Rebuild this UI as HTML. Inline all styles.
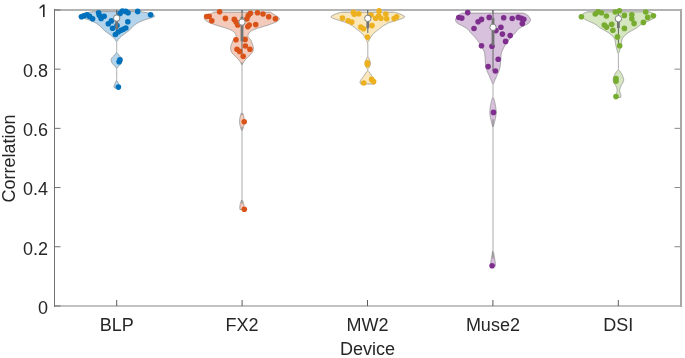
<!DOCTYPE html><html><head><meta charset="utf-8"><style>html,body{margin:0;padding:0;background:#fff;}svg{display:block;will-change:transform;}text{font-family:"Liberation Sans",sans-serif;fill:#262626;}</style></head><body>
<svg width="685" height="358" viewBox="0 0 685 358">
<rect x="0" y="0" width="685" height="358" fill="#fff"/>
<rect x="54" y="9" width="627" height="2" fill="#b3b3b3"/>
<rect x="54" y="305" width="627" height="2" fill="#c2c2c2"/>
<rect x="680" y="9" width="2" height="298" fill="#a8a8a8"/>
<rect x="54" y="9" width="1" height="298" fill="#737373"/>
<line x1="55" y1="305.95" x2="60.5" y2="305.95" stroke="#707070" stroke-width="1"/>
<text x="48.0" y="314.25" font-size="18" text-anchor="end">0</text>
<line x1="55" y1="246.75" x2="60.5" y2="246.75" stroke="#707070" stroke-width="1"/>
<line x1="674.5" y1="246.75" x2="680" y2="246.75" stroke="#8a8a8a" stroke-width="1"/>
<text x="48.0" y="255.05" font-size="18" text-anchor="end">0.2</text>
<line x1="55" y1="187.55" x2="60.5" y2="187.55" stroke="#707070" stroke-width="1"/>
<line x1="674.5" y1="187.55" x2="680" y2="187.55" stroke="#8a8a8a" stroke-width="1"/>
<text x="48.0" y="195.45" font-size="18" text-anchor="end">0.4</text>
<line x1="55" y1="128.35" x2="60.5" y2="128.35" stroke="#707070" stroke-width="1"/>
<line x1="674.5" y1="128.35" x2="680" y2="128.35" stroke="#8a8a8a" stroke-width="1"/>
<text x="48.0" y="135.85" font-size="18" text-anchor="end">0.6</text>
<line x1="55" y1="69.15" x2="60.5" y2="69.15" stroke="#707070" stroke-width="1"/>
<line x1="674.5" y1="69.15" x2="680" y2="69.15" stroke="#8a8a8a" stroke-width="1"/>
<text x="48.0" y="76.65" font-size="18" text-anchor="end">0.8</text>
<line x1="55" y1="9.95" x2="60.5" y2="9.95" stroke="#707070" stroke-width="1"/>
<path d="M43.03,16.95 L43.03,6.45 L39.60,9.05 L39.60,7.25 L43.00,4.57 L44.62,4.57 L44.62,16.95 Z" fill="#262626"/>
<line x1="116.70" y1="306" x2="116.70" y2="300" stroke="#5a5a5a" stroke-width="1"/>
<line x1="116.70" y1="10" x2="116.70" y2="16" stroke="#707070" stroke-width="1"/>
<text x="116.70" y="330.6" font-size="18" text-anchor="middle">BLP</text>
<line x1="242.10" y1="306" x2="242.10" y2="300" stroke="#5a5a5a" stroke-width="1"/>
<line x1="242.10" y1="10" x2="242.10" y2="16" stroke="#707070" stroke-width="1"/>
<text x="242.10" y="330.6" font-size="18" text-anchor="middle">FX2</text>
<line x1="367.50" y1="306" x2="367.50" y2="300" stroke="#5a5a5a" stroke-width="1"/>
<line x1="367.50" y1="10" x2="367.50" y2="16" stroke="#707070" stroke-width="1"/>
<text x="367.50" y="330.6" font-size="18" text-anchor="middle">MW2</text>
<line x1="492.90" y1="306" x2="492.90" y2="300" stroke="#5a5a5a" stroke-width="1"/>
<line x1="492.90" y1="10" x2="492.90" y2="16" stroke="#707070" stroke-width="1"/>
<text x="492.90" y="330.6" font-size="18" text-anchor="middle">Muse2</text>
<line x1="618.30" y1="306" x2="618.30" y2="300" stroke="#5a5a5a" stroke-width="1"/>
<line x1="618.30" y1="10" x2="618.30" y2="16" stroke="#707070" stroke-width="1"/>
<text x="618.30" y="330.6" font-size="18" text-anchor="middle">DSI</text>
<text x="367.5" y="355.2" font-size="18" text-anchor="middle">Device</text>
<text transform="translate(15.4,158.5) rotate(-90)" x="0" y="0" font-size="18" text-anchor="middle">Correlation</text>
<defs><clipPath id="ax"><rect x="54" y="10" width="627" height="296"/></clipPath></defs>
<g clip-path="url(#ax)">
<path d="M93.70,11.60 L93.04,11.70 L92.14,11.83 L91.05,11.98 L89.87,12.15 L88.65,12.33 L87.47,12.52 L86.39,12.71 L85.50,12.90 L84.76,13.08 L84.11,13.27 L83.52,13.47 L82.99,13.67 L82.51,13.87 L82.06,14.08 L81.62,14.29 L81.20,14.50 L80.75,14.72 L80.29,14.94 L79.83,15.16 L79.41,15.39 L79.05,15.62 L78.80,15.85 L78.67,16.07 L78.70,16.30 L78.92,16.53 L79.32,16.76 L79.85,17.00 L80.47,17.23 L81.15,17.46 L81.85,17.69 L82.51,17.90 L83.10,18.10 L83.64,18.28 L84.17,18.45 L84.70,18.60 L85.23,18.75 L85.76,18.90 L86.30,19.05 L86.84,19.22 L87.40,19.40 L87.97,19.60 L88.56,19.81 L89.16,20.03 L89.76,20.25 L90.36,20.48 L90.95,20.72 L91.53,20.96 L92.10,21.20 L92.65,21.45 L93.20,21.69 L93.75,21.95 L94.28,22.21 L94.81,22.47 L95.32,22.74 L95.82,23.02 L96.30,23.30 L96.77,23.59 L97.23,23.90 L97.68,24.21 L98.11,24.53 L98.53,24.84 L98.94,25.17 L99.33,25.48 L99.70,25.80 L100.04,26.11 L100.36,26.42 L100.65,26.73 L100.93,27.04 L101.21,27.35 L101.49,27.66 L101.78,27.98 L102.10,28.30 L102.43,28.62 L102.75,28.95 L103.08,29.28 L103.43,29.61 L103.78,29.94 L104.16,30.29 L104.56,30.64 L105.00,31.00 L105.49,31.38 L106.02,31.78 L106.59,32.19 L107.17,32.60 L107.76,33.01 L108.34,33.42 L108.89,33.82 L109.40,34.20 L109.87,34.56 L110.32,34.91 L110.76,35.25 L111.17,35.59 L111.58,35.92 L111.96,36.24 L112.34,36.57 L112.70,36.90 L113.05,37.23 L113.39,37.56 L113.71,37.89 L114.03,38.21 L114.32,38.54 L114.60,38.86 L114.86,39.18 L115.10,39.50 L115.32,39.82 L115.53,40.16 L115.71,40.49 L115.88,40.82 L116.04,41.14 L116.17,41.45 L116.29,41.74 L116.40,42.00 L116.49,42.19 L116.55,42.30 L116.59,42.37 L116.62,42.44 L116.64,42.54 L116.65,42.73 L116.67,43.03 L116.68,43.50 L116.70,44.19 L116.70,45.11 L116.70,46.16 L116.70,47.28 L116.70,48.40 L116.70,49.44 L116.70,50.33 L116.68,51.00 L116.66,51.43 L116.64,51.70 L116.61,51.83 L116.58,51.88 L116.55,51.87 L116.51,51.87 L116.46,51.90 L116.40,52.00 L116.34,52.16 L116.26,52.34 L116.19,52.53 L116.10,52.72 L116.01,52.92 L115.91,53.11 L115.81,53.31 L115.70,53.50 L115.59,53.68 L115.49,53.84 L115.39,53.99 L115.28,54.15 L115.15,54.32 L115.00,54.51 L114.82,54.74 L114.60,55.00 L114.32,55.32 L113.97,55.68 L113.58,56.08 L113.17,56.49 L112.76,56.92 L112.39,57.34 L112.06,57.74 L111.80,58.10 L111.61,58.43 L111.46,58.74 L111.34,59.04 L111.26,59.33 L111.21,59.61 L111.19,59.90 L111.18,60.19 L111.20,60.50 L111.24,60.82 L111.30,61.15 L111.40,61.49 L111.51,61.82 L111.65,62.17 L111.81,62.51 L112.00,62.86 L112.20,63.20 L112.44,63.55 L112.73,63.92 L113.05,64.30 L113.39,64.68 L113.73,65.04 L114.05,65.39 L114.35,65.71 L114.60,66.00 L114.81,66.25 L115.00,66.48 L115.16,66.68 L115.31,66.86 L115.45,67.03 L115.57,67.19 L115.69,67.35 L115.80,67.50 L115.91,67.65 L116.00,67.79 L116.08,67.91 L116.16,68.03 L116.22,68.15 L116.29,68.26 L116.34,68.38 L116.40,68.50 L116.45,68.56 L116.50,68.54 L116.54,68.48 L116.58,68.44 L116.61,68.47 L116.64,68.62 L116.66,68.94 L116.68,69.50 L116.70,70.38 L116.70,71.58 L116.70,72.99 L116.70,74.50 L116.70,76.01 L116.70,77.42 L116.70,78.62 L116.68,79.50 L116.66,80.05 L116.63,80.35 L116.60,80.47 L116.56,80.47 L116.51,80.41 L116.45,80.36 L116.38,80.36 L116.30,80.50 L116.20,80.74 L116.08,81.01 L115.94,81.31 L115.80,81.62 L115.64,81.96 L115.49,82.30 L115.34,82.65 L115.20,83.00 L115.05,83.36 L114.89,83.74 L114.73,84.13 L114.57,84.53 L114.42,84.93 L114.28,85.31 L114.18,85.67 L114.10,86.00 L114.06,86.31 L114.06,86.62 L114.09,86.91 L114.13,87.19 L114.18,87.44 L114.23,87.66 L114.28,87.85 L114.30,88.00 L119.10,88.00 L119.12,87.85 L119.17,87.66 L119.22,87.44 L119.27,87.19 L119.31,86.91 L119.34,86.62 L119.34,86.31 L119.30,86.00 L119.22,85.67 L119.12,85.31 L118.98,84.93 L118.83,84.53 L118.67,84.13 L118.51,83.74 L118.35,83.36 L118.20,83.00 L118.06,82.65 L117.91,82.30 L117.76,81.96 L117.61,81.62 L117.46,81.31 L117.32,81.01 L117.20,80.74 L117.10,80.50 L117.02,80.36 L116.95,80.36 L116.89,80.41 L116.84,80.47 L116.80,80.47 L116.77,80.35 L116.74,80.05 L116.72,79.50 L116.70,78.62 L116.70,77.42 L116.70,76.01 L116.70,74.50 L116.70,72.99 L116.70,71.58 L116.70,70.38 L116.72,69.50 L116.74,68.94 L116.76,68.62 L116.79,68.47 L116.82,68.44 L116.86,68.48 L116.90,68.54 L116.95,68.56 L117.00,68.50 L117.06,68.38 L117.11,68.26 L117.18,68.15 L117.24,68.03 L117.32,67.91 L117.40,67.79 L117.49,67.65 L117.60,67.50 L117.71,67.35 L117.83,67.19 L117.95,67.03 L118.09,66.86 L118.24,66.68 L118.40,66.48 L118.59,66.25 L118.80,66.00 L119.05,65.71 L119.35,65.39 L119.67,65.04 L120.01,64.68 L120.35,64.30 L120.67,63.92 L120.96,63.55 L121.20,63.20 L121.40,62.86 L121.59,62.51 L121.75,62.17 L121.89,61.82 L122.00,61.49 L122.10,61.15 L122.16,60.82 L122.20,60.50 L122.22,60.19 L122.21,59.90 L122.19,59.61 L122.14,59.33 L122.06,59.04 L121.94,58.74 L121.79,58.43 L121.60,58.10 L121.34,57.74 L121.01,57.34 L120.64,56.92 L120.23,56.49 L119.82,56.08 L119.43,55.68 L119.08,55.32 L118.80,55.00 L118.58,54.74 L118.40,54.51 L118.25,54.32 L118.12,54.15 L118.01,53.99 L117.91,53.84 L117.81,53.68 L117.70,53.50 L117.59,53.31 L117.49,53.11 L117.39,52.92 L117.30,52.72 L117.21,52.53 L117.14,52.34 L117.06,52.16 L117.00,52.00 L116.94,51.90 L116.89,51.87 L116.85,51.87 L116.82,51.88 L116.79,51.83 L116.76,51.70 L116.74,51.43 L116.72,51.00 L116.70,50.33 L116.70,49.44 L116.70,48.40 L116.70,47.28 L116.70,46.16 L116.70,45.11 L116.70,44.19 L116.72,43.50 L116.73,43.03 L116.75,42.73 L116.76,42.54 L116.78,42.44 L116.81,42.37 L116.85,42.30 L116.91,42.19 L117.00,42.00 L117.11,41.74 L117.23,41.45 L117.36,41.14 L117.52,40.82 L117.69,40.49 L117.87,40.16 L118.08,39.82 L118.30,39.50 L118.54,39.18 L118.80,38.86 L119.08,38.54 L119.38,38.21 L119.69,37.89 L120.01,37.56 L120.35,37.23 L120.70,36.90 L121.06,36.57 L121.44,36.24 L121.82,35.92 L122.23,35.59 L122.64,35.25 L123.08,34.91 L123.53,34.56 L124.00,34.20 L124.51,33.82 L125.06,33.42 L125.64,33.01 L126.23,32.60 L126.81,32.19 L127.38,31.78 L127.91,31.38 L128.40,31.00 L128.84,30.64 L129.24,30.29 L129.62,29.94 L129.97,29.61 L130.32,29.28 L130.65,28.95 L130.97,28.62 L131.30,28.30 L131.62,27.98 L131.91,27.66 L132.19,27.35 L132.47,27.04 L132.75,26.73 L133.04,26.42 L133.36,26.11 L133.70,25.80 L134.07,25.48 L134.46,25.17 L134.87,24.84 L135.29,24.53 L135.72,24.21 L136.17,23.90 L136.63,23.59 L137.10,23.30 L137.58,23.02 L138.08,22.74 L138.59,22.47 L139.12,22.21 L139.65,21.95 L140.20,21.69 L140.75,21.45 L141.30,21.20 L141.87,20.96 L142.45,20.72 L143.04,20.48 L143.64,20.25 L144.24,20.03 L144.84,19.81 L145.43,19.60 L146.00,19.40 L146.56,19.22 L147.10,19.05 L147.64,18.90 L148.17,18.75 L148.70,18.60 L149.23,18.45 L149.76,18.28 L150.30,18.10 L150.89,17.90 L151.55,17.69 L152.25,17.46 L152.93,17.23 L153.55,17.00 L154.08,16.76 L154.48,16.53 L154.70,16.30 L154.73,16.07 L154.60,15.85 L154.35,15.62 L153.99,15.39 L153.57,15.16 L153.11,14.94 L152.65,14.72 L152.20,14.50 L151.78,14.29 L151.34,14.08 L150.89,13.87 L150.41,13.67 L149.88,13.47 L149.29,13.27 L148.64,13.08 L147.90,12.90 L147.01,12.71 L145.93,12.52 L144.75,12.33 L143.53,12.15 L142.35,11.98 L141.26,11.83 L140.36,11.70 L139.70,11.60 Z" fill="#B3D4EB" stroke="none"/>
<path d="M139.70,11.60 L93.70,11.60 L93.70,11.60 L93.04,11.70 L92.14,11.83 L91.05,11.98 L89.87,12.15 L88.65,12.33 L87.47,12.52 L86.39,12.71 L85.50,12.90 L84.76,13.08 L84.11,13.27 L83.52,13.47 L82.99,13.67 L82.51,13.87 L82.06,14.08 L81.62,14.29 L81.20,14.50 L80.75,14.72 L80.29,14.94 L79.83,15.16 L79.41,15.39 L79.05,15.62 L78.80,15.85 L78.67,16.07 L78.70,16.30 L78.92,16.53 L79.32,16.76 L79.85,17.00 L80.47,17.23 L81.15,17.46 L81.85,17.69 L82.51,17.90 L83.10,18.10 L83.64,18.28 L84.17,18.45 L84.70,18.60 L85.23,18.75 L85.76,18.90 L86.30,19.05 L86.84,19.22 L87.40,19.40 L87.97,19.60 L88.56,19.81 L89.16,20.03 L89.76,20.25 L90.36,20.48 L90.95,20.72 L91.53,20.96 L92.10,21.20 L92.65,21.45 L93.20,21.69 L93.75,21.95 L94.28,22.21 L94.81,22.47 L95.32,22.74 L95.82,23.02 L96.30,23.30 L96.77,23.59 L97.23,23.90 L97.68,24.21 L98.11,24.53 L98.53,24.84 L98.94,25.17 L99.33,25.48 L99.70,25.80 L100.04,26.11 L100.36,26.42 L100.65,26.73 L100.93,27.04 L101.21,27.35 L101.49,27.66 L101.78,27.98 L102.10,28.30 L102.43,28.62 L102.75,28.95 L103.08,29.28 L103.43,29.61 L103.78,29.94 L104.16,30.29 L104.56,30.64 L105.00,31.00 L105.49,31.38 L106.02,31.78 L106.59,32.19 L107.17,32.60 L107.76,33.01 L108.34,33.42 L108.89,33.82 L109.40,34.20 L109.87,34.56 L110.32,34.91 L110.76,35.25 L111.17,35.59 L111.58,35.92 L111.96,36.24 L112.34,36.57 L112.70,36.90 L113.05,37.23 L113.39,37.56 L113.71,37.89 L114.03,38.21 L114.32,38.54 L114.60,38.86 L114.86,39.18 L115.10,39.50 L115.32,39.82 L115.53,40.16 L115.71,40.49 L115.88,40.82 L116.07,41.14 L116.30,41.45 L116.46,41.74 L116.57,42.00 L116.63,42.19 L116.67,42.30 L116.68,42.37 L116.69,42.44 L116.69,42.54 L116.70,42.73 L116.70,43.03 L116.70,43.50 L116.70,44.19 L116.70,45.11 L116.70,46.16 L116.70,47.28 L116.70,48.40 L116.70,49.44 L116.70,50.33 L116.70,51.00 L116.70,51.43 L116.69,51.70 L116.69,51.83 L116.68,51.88 L116.67,51.87 L116.65,51.87 L116.62,51.90 L116.57,52.00 L116.51,52.16 L116.43,52.34 L116.32,52.53 L116.19,52.72 L116.02,52.92 L115.91,53.11 L115.81,53.31 L115.70,53.50 L115.59,53.68 L115.49,53.84 L115.39,53.99 L115.28,54.15 L115.15,54.32 L115.00,54.51 L114.82,54.74 L114.60,55.00 L114.32,55.32 L113.97,55.68 L113.58,56.08 L113.17,56.49 L112.76,56.92 L112.39,57.34 L112.06,57.74 L111.80,58.10 L111.61,58.43 L111.46,58.74 L111.34,59.04 L111.26,59.33 L111.21,59.61 L111.19,59.90 L111.18,60.19 L111.20,60.50 L111.24,60.82 L111.30,61.15 L111.40,61.49 L111.51,61.82 L111.65,62.17 L111.81,62.51 L112.00,62.86 L112.20,63.20 L112.44,63.55 L112.73,63.92 L113.05,64.30 L113.39,64.68 L113.73,65.04 L114.05,65.39 L114.35,65.71 L114.60,66.00 L114.81,66.25 L115.00,66.48 L115.16,66.68 L115.31,66.86 L115.45,67.03 L115.57,67.19 L115.69,67.35 L115.80,67.50 L115.91,67.65 L116.00,67.79 L116.16,67.91 L116.28,68.03 L116.38,68.15 L116.46,68.26 L116.52,68.38 L116.57,68.50 L116.61,68.56 L116.64,68.54 L116.66,68.48 L116.68,68.44 L116.69,68.47 L116.69,68.62 L116.70,68.94 L116.70,69.50 L116.70,70.38 L116.70,71.58 L116.70,72.99 L116.70,74.50 L116.70,76.01 L116.70,77.42 L116.70,78.62 L116.70,79.50 L116.70,80.05 L116.69,80.35 L116.68,80.47 L116.67,80.47 L116.65,80.41 L116.61,80.36 L116.56,80.36 L116.47,80.50 L116.34,80.74 L116.14,81.01 L115.94,81.31 L115.80,81.62 L115.64,81.96 L115.49,82.30 L115.34,82.65 L115.20,83.00 L115.05,83.36 L114.89,83.74 L114.73,84.13 L114.57,84.53 L114.42,84.93 L114.28,85.31 L114.18,85.67 L114.10,86.00 L114.06,86.31 L114.06,86.62 L114.09,86.91 L114.13,87.19 L114.18,87.44 L114.23,87.66 L114.28,87.85 L114.30,88.00 L119.10,88.00 M119.10,88.00 L119.12,87.85 L119.17,87.66 L119.22,87.44 L119.27,87.19 L119.31,86.91 L119.34,86.62 L119.34,86.31 L119.30,86.00 L119.22,85.67 L119.12,85.31 L118.98,84.93 L118.83,84.53 L118.67,84.13 L118.51,83.74 L118.35,83.36 L118.20,83.00 L118.06,82.65 L117.91,82.30 L117.76,81.96 L117.61,81.62 L117.46,81.31 L117.26,81.01 M117.24,67.91 L117.40,67.79 L117.49,67.65 L117.60,67.50 L117.71,67.35 L117.83,67.19 L117.95,67.03 L118.09,66.86 L118.24,66.68 L118.40,66.48 L118.59,66.25 L118.80,66.00 L119.05,65.71 L119.35,65.39 L119.67,65.04 L120.01,64.68 L120.35,64.30 L120.67,63.92 L120.96,63.55 L121.20,63.20 L121.40,62.86 L121.59,62.51 L121.75,62.17 L121.89,61.82 L122.00,61.49 L122.10,61.15 L122.16,60.82 L122.20,60.50 L122.22,60.19 L122.21,59.90 L122.19,59.61 L122.14,59.33 L122.06,59.04 L121.94,58.74 L121.79,58.43 L121.60,58.10 L121.34,57.74 L121.01,57.34 L120.64,56.92 L120.23,56.49 L119.82,56.08 L119.43,55.68 L119.08,55.32 L118.80,55.00 L118.58,54.74 L118.40,54.51 L118.25,54.32 L118.12,54.15 L118.01,53.99 L117.91,53.84 L117.81,53.68 L117.70,53.50 L117.59,53.31 L117.49,53.11 L117.38,52.92 M117.33,41.14 L117.52,40.82 L117.69,40.49 L117.87,40.16 L118.08,39.82 L118.30,39.50 L118.54,39.18 L118.80,38.86 L119.08,38.54 L119.38,38.21 L119.69,37.89 L120.01,37.56 L120.35,37.23 L120.70,36.90 L121.06,36.57 L121.44,36.24 L121.82,35.92 L122.23,35.59 L122.64,35.25 L123.08,34.91 L123.53,34.56 L124.00,34.20 L124.51,33.82 L125.06,33.42 L125.64,33.01 L126.23,32.60 L126.81,32.19 L127.38,31.78 L127.91,31.38 L128.40,31.00 L128.84,30.64 L129.24,30.29 L129.62,29.94 L129.97,29.61 L130.32,29.28 L130.65,28.95 L130.97,28.62 L131.30,28.30 L131.62,27.98 L131.91,27.66 L132.19,27.35 L132.47,27.04 L132.75,26.73 L133.04,26.42 L133.36,26.11 L133.70,25.80 L134.07,25.48 L134.46,25.17 L134.87,24.84 L135.29,24.53 L135.72,24.21 L136.17,23.90 L136.63,23.59 L137.10,23.30 L137.58,23.02 L138.08,22.74 L138.59,22.47 L139.12,22.21 L139.65,21.95 L140.20,21.69 L140.75,21.45 L141.30,21.20 L141.87,20.96 L142.45,20.72 L143.04,20.48 L143.64,20.25 L144.24,20.03 L144.84,19.81 L145.43,19.60 L146.00,19.40 L146.56,19.22 L147.10,19.05 L147.64,18.90 L148.17,18.75 L148.70,18.60 L149.23,18.45 L149.76,18.28 L150.30,18.10 L150.89,17.90 L151.55,17.69 L152.25,17.46 L152.93,17.23 L153.55,17.00 L154.08,16.76 L154.48,16.53 L154.70,16.30 L154.73,16.07 L154.60,15.85 L154.35,15.62 L153.99,15.39 L153.57,15.16 L153.11,14.94 L152.65,14.72 L152.20,14.50 L151.78,14.29 L151.34,14.08 L150.89,13.87 L150.41,13.67 L149.88,13.47 L149.29,13.27 L148.64,13.08 L147.90,12.90 L147.01,12.71 L145.93,12.52 L144.75,12.33 L143.53,12.15 L142.35,11.98 L141.26,11.83 L140.36,11.70 L139.70,11.60" fill="none" stroke="#888888" stroke-width="0.72" stroke-linejoin="round"/>
</g>
<line x1="116.70" y1="10.00" x2="116.70" y2="34.50" stroke="#666666" stroke-width="1.0"/>
<circle cx="81.5" cy="16.7" r="2.8" fill="#0072BD"/>
<circle cx="84.0" cy="15.8" r="2.8" fill="#0072BD"/>
<circle cx="87.0" cy="14.7" r="2.8" fill="#0072BD"/>
<circle cx="89.6" cy="16.4" r="2.8" fill="#0072BD"/>
<circle cx="92.6" cy="18.8" r="2.8" fill="#0072BD"/>
<circle cx="98.6" cy="12.8" r="2.8" fill="#0072BD"/>
<circle cx="99.3" cy="15.3" r="2.8" fill="#0072BD"/>
<circle cx="101.1" cy="18.4" r="2.8" fill="#0072BD"/>
<circle cx="104.2" cy="16.3" r="2.8" fill="#0072BD"/>
<circle cx="108.3" cy="23.7" r="2.8" fill="#0072BD"/>
<circle cx="111.4" cy="20.9" r="2.8" fill="#0072BD"/>
<circle cx="112.6" cy="28.3" r="2.8" fill="#0072BD"/>
<circle cx="117.0" cy="25.5" r="2.8" fill="#0072BD"/>
<circle cx="115.4" cy="34.5" r="2.8" fill="#0072BD"/>
<circle cx="118.2" cy="32.0" r="2.8" fill="#0072BD"/>
<circle cx="121.0" cy="30.3" r="2.8" fill="#0072BD"/>
<circle cx="123.3" cy="29.2" r="2.8" fill="#0072BD"/>
<circle cx="125.8" cy="28.0" r="2.8" fill="#0072BD"/>
<circle cx="120.0" cy="13.4" r="2.8" fill="#0072BD"/>
<circle cx="122.4" cy="11.0" r="2.8" fill="#0072BD"/>
<circle cx="125.7" cy="11.4" r="2.8" fill="#0072BD"/>
<circle cx="128.1" cy="12.7" r="2.8" fill="#0072BD"/>
<circle cx="127.8" cy="21.8" r="2.8" fill="#0072BD"/>
<circle cx="137.7" cy="11.4" r="2.8" fill="#0072BD"/>
<circle cx="150.6" cy="14.8" r="2.8" fill="#0072BD"/>
<circle cx="119.9" cy="59.9" r="2.8" fill="#0072BD"/>
<circle cx="119.1" cy="61.8" r="2.8" fill="#0072BD"/>
<circle cx="118.4" cy="87.1" r="2.8" fill="#0072BD"/>
<rect x="115.30" y="20.50" width="2.8" height="9.00" fill="#737373"/>
<circle cx="116.70" cy="18.10" r="3.2" fill="#fff" stroke="#808080" stroke-width="1.0"/>
<g clip-path="url(#ax)">
<path d="M213.50,12.20 L213.40,12.26 L213.30,12.34 L213.18,12.42 L213.03,12.52 L212.85,12.65 L212.62,12.80 L212.34,12.98 L212.00,13.20 L211.57,13.47 L211.05,13.78 L210.47,14.14 L209.84,14.51 L209.21,14.90 L208.59,15.29 L208.01,15.66 L207.50,16.00 L207.03,16.32 L206.56,16.65 L206.10,16.96 L205.67,17.28 L205.28,17.58 L204.95,17.87 L204.68,18.14 L204.50,18.40 L204.40,18.63 L204.38,18.84 L204.42,19.03 L204.51,19.21 L204.66,19.39 L204.84,19.58 L205.06,19.78 L205.30,20.00 L205.56,20.24 L205.85,20.50 L206.17,20.76 L206.53,21.04 L206.94,21.32 L207.40,21.61 L207.92,21.90 L208.50,22.20 L209.17,22.51 L209.93,22.83 L210.75,23.17 L211.62,23.51 L212.53,23.84 L213.44,24.18 L214.33,24.50 L215.20,24.80 L216.06,25.09 L216.93,25.37 L217.81,25.65 L218.69,25.91 L219.56,26.17 L220.41,26.42 L221.23,26.66 L222.00,26.90 L222.73,27.12 L223.43,27.33 L224.11,27.53 L224.76,27.72 L225.39,27.91 L226.00,28.10 L226.60,28.29 L227.20,28.50 L227.79,28.71 L228.37,28.93 L228.94,29.16 L229.50,29.38 L230.04,29.61 L230.55,29.84 L231.04,30.07 L231.50,30.30 L231.93,30.53 L232.34,30.76 L232.72,30.98 L233.08,31.21 L233.42,31.45 L233.73,31.69 L234.03,31.94 L234.30,32.20 L234.55,32.48 L234.77,32.76 L234.98,33.06 L235.16,33.37 L235.32,33.68 L235.46,33.99 L235.59,34.30 L235.70,34.60 L235.81,34.90 L235.92,35.19 L236.03,35.48 L236.11,35.77 L236.16,36.07 L236.17,36.37 L236.12,36.68 L236.00,37.00 L235.79,37.33 L235.48,37.69 L235.11,38.05 L234.70,38.41 L234.28,38.78 L233.88,39.13 L233.52,39.48 L233.25,39.80 L233.05,40.10 L232.91,40.37 L232.81,40.63 L232.72,40.88 L232.66,41.14 L232.59,41.40 L232.51,41.69 L232.40,42.00 L232.27,42.34 L232.12,42.70 L231.97,43.07 L231.81,43.46 L231.66,43.86 L231.51,44.27 L231.37,44.68 L231.25,45.10 L231.13,45.52 L231.01,45.96 L230.89,46.40 L230.78,46.86 L230.69,47.31 L230.62,47.77 L230.59,48.24 L230.60,48.70 L230.65,49.17 L230.73,49.65 L230.83,50.13 L230.97,50.61 L231.13,51.10 L231.33,51.57 L231.55,52.04 L231.80,52.50 L232.09,52.94 L232.42,53.38 L232.78,53.80 L233.18,54.22 L233.58,54.64 L234.01,55.05 L234.43,55.47 L234.85,55.90 L235.28,56.33 L235.74,56.77 L236.22,57.22 L236.70,57.66 L237.18,58.11 L237.64,58.54 L238.06,58.98 L238.45,59.40 L238.80,59.82 L239.13,60.24 L239.43,60.67 L239.71,61.08 L239.97,61.49 L240.21,61.88 L240.44,62.25 L240.65,62.60 L240.84,62.93 L241.01,63.24 L241.16,63.54 L241.29,63.83 L241.41,64.09 L241.52,64.34 L241.61,64.58 L241.70,64.80 L241.77,64.70 L241.83,64.13 L241.87,63.38 L241.91,62.69 L241.93,62.35 L241.95,62.61 L241.96,63.74 L241.98,66.00 L242.00,69.87 L242.00,75.29 L242.00,81.75 L242.00,88.73 L242.00,95.71 L242.00,102.18 L242.00,107.62 L241.98,111.50 L241.94,113.78 L241.89,114.91 L241.84,115.18 L241.77,114.84 L241.70,114.19 L241.61,113.48 L241.51,112.99 L241.40,113.00 L241.27,113.38 L241.11,113.81 L240.93,114.29 L240.75,114.80 L240.56,115.34 L240.39,115.89 L240.23,116.45 L240.10,117.00 L239.99,117.56 L239.88,118.14 L239.79,118.73 L239.70,119.33 L239.64,119.94 L239.59,120.54 L239.56,121.13 L239.55,121.70 L239.57,122.26 L239.61,122.80 L239.67,123.33 L239.75,123.86 L239.85,124.39 L239.96,124.92 L240.07,125.46 L240.20,126.00 L240.35,126.57 L240.52,127.18 L240.71,127.80 L240.92,128.43 L241.12,129.02 L241.30,129.58 L241.47,130.08 L241.60,130.50 L241.70,130.39 L241.78,129.56 L241.83,128.43 L241.88,127.38 L241.91,126.81 L241.94,127.12 L241.96,128.72 L241.98,132.00 L242.00,137.65 L242.00,145.58 L242.00,155.03 L242.00,165.25 L242.00,175.47 L242.00,184.92 L242.00,192.85 L241.98,198.50 L241.95,201.79 L241.91,203.41 L241.86,203.76 L241.80,203.22 L241.74,202.18 L241.67,201.04 L241.59,200.19 L241.50,200.00 L241.40,200.30 L241.28,200.62 L241.15,200.97 L241.01,201.34 L240.88,201.74 L240.74,202.14 L240.61,202.57 L240.50,203.00 L240.39,203.46 L240.29,203.96 L240.18,204.49 L240.08,205.03 L239.99,205.57 L239.91,206.08 L239.85,206.56 L239.80,207.00 L239.77,207.40 L239.77,207.79 L239.78,208.16 L239.81,208.50 L239.83,208.81 L239.86,209.09 L239.89,209.32 L239.90,209.50 L244.10,209.50 L244.11,209.32 L244.14,209.09 L244.17,208.81 L244.19,208.50 L244.22,208.16 L244.23,207.79 L244.23,207.40 L244.20,207.00 L244.15,206.56 L244.09,206.08 L244.01,205.57 L243.92,205.03 L243.82,204.49 L243.71,203.96 L243.61,203.46 L243.50,203.00 L243.39,202.57 L243.26,202.14 L243.12,201.74 L242.99,201.34 L242.85,200.97 L242.72,200.62 L242.60,200.30 L242.50,200.00 L242.41,200.19 L242.33,201.04 L242.26,202.18 L242.20,203.22 L242.14,203.76 L242.09,203.41 L242.05,201.79 L242.02,198.50 L242.00,192.85 L242.00,184.92 L242.00,175.47 L242.00,165.25 L242.00,155.03 L242.00,145.58 L242.00,137.65 L242.02,132.00 L242.04,128.72 L242.06,127.12 L242.09,126.81 L242.12,127.38 L242.17,128.43 L242.22,129.56 L242.30,130.39 L242.40,130.50 L242.53,130.08 L242.70,129.58 L242.88,129.02 L243.08,128.43 L243.29,127.80 L243.48,127.18 L243.65,126.57 L243.80,126.00 L243.93,125.46 L244.04,124.92 L244.15,124.39 L244.25,123.86 L244.33,123.33 L244.39,122.80 L244.43,122.26 L244.45,121.70 L244.44,121.13 L244.41,120.54 L244.36,119.94 L244.30,119.33 L244.21,118.73 L244.12,118.14 L244.01,117.56 L243.90,117.00 L243.77,116.45 L243.61,115.89 L243.44,115.34 L243.25,114.80 L243.07,114.29 L242.89,113.81 L242.73,113.38 L242.60,113.00 L242.49,112.99 L242.39,113.48 L242.30,114.19 L242.23,114.84 L242.16,115.18 L242.11,114.91 L242.06,113.78 L242.02,111.50 L242.00,107.62 L242.00,102.18 L242.00,95.71 L242.00,88.73 L242.00,81.75 L242.00,75.29 L242.00,69.87 L242.02,66.00 L242.04,63.74 L242.05,62.61 L242.07,62.35 L242.09,62.69 L242.13,63.38 L242.17,64.13 L242.23,64.70 L242.30,64.80 L242.39,64.58 L242.48,64.34 L242.59,64.09 L242.71,63.83 L242.84,63.54 L242.99,63.24 L243.16,62.93 L243.35,62.60 L243.56,62.25 L243.79,61.88 L244.03,61.49 L244.29,61.08 L244.57,60.67 L244.87,60.24 L245.20,59.82 L245.55,59.40 L245.94,58.98 L246.36,58.54 L246.82,58.11 L247.30,57.66 L247.78,57.22 L248.26,56.77 L248.72,56.33 L249.15,55.90 L249.57,55.47 L249.99,55.05 L250.42,54.64 L250.82,54.22 L251.22,53.80 L251.58,53.38 L251.91,52.94 L252.20,52.50 L252.45,52.04 L252.67,51.57 L252.87,51.10 L253.03,50.61 L253.17,50.13 L253.27,49.65 L253.35,49.17 L253.40,48.70 L253.41,48.24 L253.38,47.77 L253.31,47.31 L253.22,46.86 L253.11,46.40 L252.99,45.96 L252.87,45.52 L252.75,45.10 L252.63,44.68 L252.49,44.27 L252.34,43.86 L252.19,43.46 L252.03,43.07 L251.88,42.70 L251.73,42.34 L251.60,42.00 L251.49,41.69 L251.41,41.40 L251.34,41.14 L251.28,40.88 L251.19,40.63 L251.09,40.37 L250.95,40.10 L250.75,39.80 L250.48,39.48 L250.12,39.13 L249.72,38.78 L249.30,38.41 L248.89,38.05 L248.52,37.69 L248.21,37.33 L248.00,37.00 L247.88,36.68 L247.83,36.37 L247.84,36.07 L247.89,35.77 L247.97,35.48 L248.08,35.19 L248.19,34.90 L248.30,34.60 L248.41,34.30 L248.54,33.99 L248.68,33.68 L248.84,33.37 L249.02,33.06 L249.23,32.76 L249.45,32.48 L249.70,32.20 L249.97,31.94 L250.27,31.69 L250.58,31.45 L250.92,31.21 L251.28,30.98 L251.66,30.76 L252.07,30.53 L252.50,30.30 L252.96,30.07 L253.45,29.84 L253.96,29.61 L254.50,29.38 L255.06,29.16 L255.63,28.93 L256.21,28.71 L256.80,28.50 L257.40,28.29 L258.00,28.10 L258.61,27.91 L259.24,27.72 L259.89,27.53 L260.57,27.33 L261.27,27.12 L262.00,26.90 L262.77,26.66 L263.59,26.42 L264.44,26.17 L265.31,25.91 L266.19,25.65 L267.07,25.37 L267.94,25.09 L268.80,24.80 L269.67,24.50 L270.56,24.18 L271.47,23.84 L272.38,23.51 L273.25,23.17 L274.07,22.83 L274.83,22.51 L275.50,22.20 L276.08,21.90 L276.60,21.61 L277.06,21.32 L277.47,21.04 L277.83,20.76 L278.15,20.50 L278.44,20.24 L278.70,20.00 L278.94,19.78 L279.16,19.58 L279.34,19.39 L279.49,19.21 L279.58,19.03 L279.62,18.84 L279.60,18.63 L279.50,18.40 L279.32,18.14 L279.05,17.87 L278.72,17.58 L278.33,17.28 L277.90,16.96 L277.44,16.65 L276.97,16.32 L276.50,16.00 L275.99,15.66 L275.41,15.29 L274.79,14.90 L274.16,14.51 L273.53,14.14 L272.95,13.78 L272.43,13.47 L272.00,13.20 L271.66,12.98 L271.38,12.80 L271.15,12.65 L270.97,12.52 L270.82,12.42 L270.70,12.34 L270.60,12.26 L270.50,12.20 Z" fill="#F4CBBA" stroke="none"/>
<path d="M270.50,12.20 L213.50,12.20 L213.50,12.20 L213.40,12.26 L213.30,12.34 L213.18,12.42 L213.03,12.52 L212.85,12.65 L212.62,12.80 L212.34,12.98 L212.00,13.20 L211.57,13.47 L211.05,13.78 L210.47,14.14 L209.84,14.51 L209.21,14.90 L208.59,15.29 L208.01,15.66 L207.50,16.00 L207.03,16.32 L206.56,16.65 L206.10,16.96 L205.67,17.28 L205.28,17.58 L204.95,17.87 L204.68,18.14 L204.50,18.40 L204.40,18.63 L204.38,18.84 L204.42,19.03 L204.51,19.21 L204.66,19.39 L204.84,19.58 L205.06,19.78 L205.30,20.00 L205.56,20.24 L205.85,20.50 L206.17,20.76 L206.53,21.04 L206.94,21.32 L207.40,21.61 L207.92,21.90 L208.50,22.20 L209.17,22.51 L209.93,22.83 L210.75,23.17 L211.62,23.51 L212.53,23.84 L213.44,24.18 L214.33,24.50 L215.20,24.80 L216.06,25.09 L216.93,25.37 L217.81,25.65 L218.69,25.91 L219.56,26.17 L220.41,26.42 L221.23,26.66 L222.00,26.90 L222.73,27.12 L223.43,27.33 L224.11,27.53 L224.76,27.72 L225.39,27.91 L226.00,28.10 L226.60,28.29 L227.20,28.50 L227.79,28.71 L228.37,28.93 L228.94,29.16 L229.50,29.38 L230.04,29.61 L230.55,29.84 L231.04,30.07 L231.50,30.30 L231.93,30.53 L232.34,30.76 L232.72,30.98 L233.08,31.21 L233.42,31.45 L233.73,31.69 L234.03,31.94 L234.30,32.20 L234.55,32.48 L234.77,32.76 L234.98,33.06 L235.16,33.37 L235.32,33.68 L235.46,33.99 L235.59,34.30 L235.70,34.60 L235.81,34.90 L235.92,35.19 L236.03,35.48 L236.11,35.77 L236.16,36.07 L236.17,36.37 L236.12,36.68 L236.00,37.00 L235.79,37.33 L235.48,37.69 L235.11,38.05 L234.70,38.41 L234.28,38.78 L233.88,39.13 L233.52,39.48 L233.25,39.80 L233.05,40.10 L232.91,40.37 L232.81,40.63 L232.72,40.88 L232.66,41.14 L232.59,41.40 L232.51,41.69 L232.40,42.00 L232.27,42.34 L232.12,42.70 L231.97,43.07 L231.81,43.46 L231.66,43.86 L231.51,44.27 L231.37,44.68 L231.25,45.10 L231.13,45.52 L231.01,45.96 L230.89,46.40 L230.78,46.86 L230.69,47.31 L230.62,47.77 L230.59,48.24 L230.60,48.70 L230.65,49.17 L230.73,49.65 L230.83,50.13 L230.97,50.61 L231.13,51.10 L231.33,51.57 L231.55,52.04 L231.80,52.50 L232.09,52.94 L232.42,53.38 L232.78,53.80 L233.18,54.22 L233.58,54.64 L234.01,55.05 L234.43,55.47 L234.85,55.90 L235.28,56.33 L235.74,56.77 L236.22,57.22 L236.70,57.66 L237.18,58.11 L237.64,58.54 L238.06,58.98 L238.45,59.40 L238.80,59.82 L239.13,60.24 L239.43,60.67 L239.71,61.08 L239.97,61.49 L240.21,61.88 L240.44,62.25 L240.65,62.60 L240.84,62.93 L241.01,63.24 L241.16,63.54 L241.29,63.83 L241.51,64.09 L241.67,64.34 L241.79,64.58 L241.87,64.80 L241.93,64.70 L241.96,64.13 L241.98,63.38 L241.99,62.69 L241.99,62.35 L242.00,62.61 L242.00,63.74 L242.00,66.00 L242.00,69.87 L242.00,75.29 L242.00,81.75 L242.00,88.73 L242.00,95.71 L242.00,102.18 L242.00,107.62 L242.00,111.50 L241.99,113.78 L241.98,114.91 L241.96,115.18 L241.93,114.84 L241.87,114.19 L241.78,113.48 L241.66,112.99 L241.49,113.00 L241.27,113.38 L241.11,113.81 L240.93,114.29 L240.75,114.80 L240.56,115.34 L240.39,115.89 L240.23,116.45 L240.10,117.00 L239.99,117.56 L239.88,118.14 L239.79,118.73 L239.70,119.33 L239.64,119.94 L239.59,120.54 L239.56,121.13 L239.55,121.70 L239.57,122.26 L239.61,122.80 L239.67,123.33 L239.75,123.86 L239.85,124.39 L239.96,124.92 L240.07,125.46 L240.20,126.00 L240.35,126.57 L240.52,127.18 L240.71,127.80 L240.92,128.43 L241.12,129.02 L241.31,129.58 L241.60,130.08 L241.77,130.50 L241.87,130.39 L241.93,129.56 L241.96,128.43 L241.98,127.38 L241.99,126.81 L241.99,127.12 L242.00,128.72 L242.00,132.00 L242.00,137.65 L242.00,145.58 L242.00,155.03 L242.00,165.25 L242.00,175.47 L242.00,184.92 L242.00,192.85 L242.00,198.50 L242.00,201.79 L241.99,203.41 L241.97,203.76 L241.94,203.22 L241.90,202.18 L241.84,201.04 L241.76,200.19 L241.64,200.00 L241.48,200.30 L241.28,200.62 L241.15,200.97 L241.01,201.34 L240.88,201.74 L240.74,202.14 L240.61,202.57 L240.50,203.00 L240.39,203.46 L240.29,203.96 L240.18,204.49 L240.08,205.03 L239.99,205.57 L239.91,206.08 L239.85,206.56 L239.80,207.00 L239.77,207.40 L239.77,207.79 L239.78,208.16 L239.81,208.50 L239.83,208.81 L239.86,209.09 L239.89,209.32 L239.90,209.50 L244.10,209.50 M244.10,209.50 L244.11,209.32 L244.14,209.09 L244.17,208.81 L244.19,208.50 L244.22,208.16 L244.23,207.79 L244.23,207.40 L244.20,207.00 L244.15,206.56 L244.09,206.08 L244.01,205.57 L243.92,205.03 L243.82,204.49 L243.71,203.96 L243.61,203.46 L243.50,203.00 L243.39,202.57 L243.26,202.14 L243.12,201.74 L242.99,201.34 L242.85,200.97 L242.72,200.62 L242.52,200.30 M242.69,129.58 L242.88,129.02 L243.08,128.43 L243.29,127.80 L243.48,127.18 L243.65,126.57 L243.80,126.00 L243.93,125.46 L244.04,124.92 L244.15,124.39 L244.25,123.86 L244.33,123.33 L244.39,122.80 L244.43,122.26 L244.45,121.70 L244.44,121.13 L244.41,120.54 L244.36,119.94 L244.30,119.33 L244.21,118.73 L244.12,118.14 L244.01,117.56 L243.90,117.00 L243.77,116.45 L243.61,115.89 L243.44,115.34 L243.25,114.80 L243.07,114.29 L242.89,113.81 L242.73,113.38 L242.51,113.00 M242.49,64.09 L242.71,63.83 L242.84,63.54 L242.99,63.24 L243.16,62.93 L243.35,62.60 L243.56,62.25 L243.79,61.88 L244.03,61.49 L244.29,61.08 L244.57,60.67 L244.87,60.24 L245.20,59.82 L245.55,59.40 L245.94,58.98 L246.36,58.54 L246.82,58.11 L247.30,57.66 L247.78,57.22 L248.26,56.77 L248.72,56.33 L249.15,55.90 L249.57,55.47 L249.99,55.05 L250.42,54.64 L250.82,54.22 L251.22,53.80 L251.58,53.38 L251.91,52.94 L252.20,52.50 L252.45,52.04 L252.67,51.57 L252.87,51.10 L253.03,50.61 L253.17,50.13 L253.27,49.65 L253.35,49.17 L253.40,48.70 L253.41,48.24 L253.38,47.77 L253.31,47.31 L253.22,46.86 L253.11,46.40 L252.99,45.96 L252.87,45.52 L252.75,45.10 L252.63,44.68 L252.49,44.27 L252.34,43.86 L252.19,43.46 L252.03,43.07 L251.88,42.70 L251.73,42.34 L251.60,42.00 L251.49,41.69 L251.41,41.40 L251.34,41.14 L251.28,40.88 L251.19,40.63 L251.09,40.37 L250.95,40.10 L250.75,39.80 L250.48,39.48 L250.12,39.13 L249.72,38.78 L249.30,38.41 L248.89,38.05 L248.52,37.69 L248.21,37.33 L248.00,37.00 L247.88,36.68 L247.83,36.37 L247.84,36.07 L247.89,35.77 L247.97,35.48 L248.08,35.19 L248.19,34.90 L248.30,34.60 L248.41,34.30 L248.54,33.99 L248.68,33.68 L248.84,33.37 L249.02,33.06 L249.23,32.76 L249.45,32.48 L249.70,32.20 L249.97,31.94 L250.27,31.69 L250.58,31.45 L250.92,31.21 L251.28,30.98 L251.66,30.76 L252.07,30.53 L252.50,30.30 L252.96,30.07 L253.45,29.84 L253.96,29.61 L254.50,29.38 L255.06,29.16 L255.63,28.93 L256.21,28.71 L256.80,28.50 L257.40,28.29 L258.00,28.10 L258.61,27.91 L259.24,27.72 L259.89,27.53 L260.57,27.33 L261.27,27.12 L262.00,26.90 L262.77,26.66 L263.59,26.42 L264.44,26.17 L265.31,25.91 L266.19,25.65 L267.07,25.37 L267.94,25.09 L268.80,24.80 L269.67,24.50 L270.56,24.18 L271.47,23.84 L272.38,23.51 L273.25,23.17 L274.07,22.83 L274.83,22.51 L275.50,22.20 L276.08,21.90 L276.60,21.61 L277.06,21.32 L277.47,21.04 L277.83,20.76 L278.15,20.50 L278.44,20.24 L278.70,20.00 L278.94,19.78 L279.16,19.58 L279.34,19.39 L279.49,19.21 L279.58,19.03 L279.62,18.84 L279.60,18.63 L279.50,18.40 L279.32,18.14 L279.05,17.87 L278.72,17.58 L278.33,17.28 L277.90,16.96 L277.44,16.65 L276.97,16.32 L276.50,16.00 L275.99,15.66 L275.41,15.29 L274.79,14.90 L274.16,14.51 L273.53,14.14 L272.95,13.78 L272.43,13.47 L272.00,13.20 L271.66,12.98 L271.38,12.80 L271.15,12.65 L270.97,12.52 L270.82,12.42 L270.70,12.34 L270.60,12.26 L270.50,12.20" fill="none" stroke="#888888" stroke-width="0.72" stroke-linejoin="round"/>
</g>
<line x1="242.00" y1="10.00" x2="242.00" y2="56.30" stroke="#666666" stroke-width="1.0"/>
<circle cx="206.7" cy="16.5" r="2.8" fill="#D95319"/>
<circle cx="209.2" cy="16.2" r="2.8" fill="#D95319"/>
<circle cx="211.8" cy="20.8" r="2.8" fill="#D95319"/>
<circle cx="219.6" cy="11.8" r="2.8" fill="#D95319"/>
<circle cx="225.4" cy="18.4" r="2.8" fill="#D95319"/>
<circle cx="234.3" cy="19.4" r="2.8" fill="#D95319"/>
<circle cx="236.1" cy="22.1" r="2.8" fill="#D95319"/>
<circle cx="237.7" cy="24.9" r="2.8" fill="#D95319"/>
<circle cx="250.4" cy="13.2" r="2.8" fill="#D95319"/>
<circle cx="248.3" cy="15.6" r="2.8" fill="#D95319"/>
<circle cx="246.8" cy="19.0" r="2.8" fill="#D95319"/>
<circle cx="257.5" cy="12.8" r="2.8" fill="#D95319"/>
<circle cx="263.0" cy="14.0" r="2.8" fill="#D95319"/>
<circle cx="268.7" cy="16.7" r="2.8" fill="#D95319"/>
<circle cx="275.4" cy="18.7" r="2.8" fill="#D95319"/>
<circle cx="255.7" cy="24.6" r="2.8" fill="#D95319"/>
<circle cx="247.8" cy="26.6" r="2.8" fill="#D95319"/>
<circle cx="249.2" cy="25.0" r="2.8" fill="#D95319"/>
<circle cx="236.0" cy="39.8" r="2.8" fill="#D95319"/>
<circle cx="245.1" cy="39.4" r="2.8" fill="#D95319"/>
<circle cx="245.4" cy="46.0" r="2.8" fill="#D95319"/>
<circle cx="249.9" cy="49.2" r="2.8" fill="#D95319"/>
<circle cx="237.0" cy="49.2" r="2.8" fill="#D95319"/>
<circle cx="239.6" cy="51.4" r="2.8" fill="#D95319"/>
<circle cx="243.2" cy="56.3" r="2.8" fill="#D95319"/>
<circle cx="244.2" cy="121.7" r="2.8" fill="#D95319"/>
<circle cx="244.3" cy="209.2" r="2.8" fill="#D95319"/>
<rect x="240.60" y="16.80" width="2.8" height="24.50" fill="#737373"/>
<circle cx="242.00" cy="22.10" r="3.2" fill="#fff" stroke="#808080" stroke-width="1.0"/>
<g clip-path="url(#ax)">
<path d="M341.80,12.20 L341.62,12.24 L341.39,12.29 L341.11,12.35 L340.80,12.42 L340.46,12.50 L340.09,12.59 L339.70,12.69 L339.30,12.80 L338.87,12.92 L338.41,13.05 L337.92,13.18 L337.41,13.33 L336.89,13.49 L336.36,13.67 L335.82,13.88 L335.30,14.10 L334.73,14.36 L334.09,14.65 L333.41,14.98 L332.74,15.31 L332.13,15.65 L331.60,15.99 L331.21,16.31 L331.00,16.60 L330.97,16.87 L331.10,17.13 L331.36,17.37 L331.71,17.61 L332.13,17.84 L332.59,18.07 L333.05,18.29 L333.50,18.50 L333.95,18.71 L334.46,18.91 L334.99,19.10 L335.56,19.29 L336.13,19.48 L336.70,19.66 L337.26,19.83 L337.80,20.00 L338.30,20.16 L338.78,20.31 L339.25,20.45 L339.72,20.58 L340.20,20.72 L340.69,20.86 L341.23,21.02 L341.80,21.20 L342.44,21.40 L343.15,21.61 L343.91,21.84 L344.68,22.07 L345.43,22.31 L346.16,22.55 L346.82,22.78 L347.40,23.00 L347.88,23.21 L348.29,23.41 L348.64,23.60 L348.95,23.79 L349.24,23.99 L349.54,24.18 L349.85,24.39 L350.20,24.60 L350.58,24.82 L350.99,25.05 L351.40,25.28 L351.81,25.51 L352.23,25.75 L352.63,26.00 L353.03,26.25 L353.40,26.50 L353.75,26.76 L354.09,27.04 L354.42,27.32 L354.74,27.61 L355.06,27.89 L355.37,28.17 L355.68,28.44 L356.00,28.70 L356.31,28.94 L356.62,29.16 L356.92,29.37 L357.23,29.58 L357.53,29.79 L357.84,30.01 L358.16,30.24 L358.50,30.50 L358.86,30.78 L359.24,31.09 L359.64,31.41 L360.04,31.74 L360.44,32.07 L360.82,32.39 L361.18,32.71 L361.50,33.00 L361.78,33.26 L362.02,33.50 L362.24,33.72 L362.44,33.94 L362.64,34.16 L362.84,34.41 L363.06,34.68 L363.30,35.00 L363.57,35.37 L363.87,35.79 L364.17,36.25 L364.49,36.72 L364.80,37.19 L365.09,37.66 L365.36,38.10 L365.60,38.50 L365.81,38.86 L365.99,39.20 L366.15,39.51 L366.30,39.81 L366.43,40.11 L366.56,40.40 L366.68,40.69 L366.80,41.00 L366.91,41.32 L367.02,41.65 L367.12,41.98 L367.21,42.31 L367.29,42.64 L367.37,42.95 L367.44,43.24 L367.50,43.50 L367.56,43.67 L367.61,43.73 L367.65,43.74 L367.68,43.75 L367.71,43.82 L367.74,44.02 L367.76,44.39 L367.78,45.00 L367.80,45.94 L367.80,47.20 L367.80,48.67 L367.80,50.25 L367.80,51.83 L367.80,53.30 L367.80,54.56 L367.78,55.50 L367.75,56.11 L367.71,56.47 L367.67,56.66 L367.62,56.72 L367.56,56.72 L367.49,56.73 L367.40,56.80 L367.30,57.00 L367.17,57.30 L367.02,57.64 L366.86,58.00 L366.68,58.39 L366.50,58.79 L366.32,59.19 L366.15,59.60 L366.00,60.00 L365.85,60.40 L365.69,60.81 L365.53,61.22 L365.38,61.64 L365.25,62.06 L365.15,62.48 L365.08,62.89 L365.05,63.30 L365.07,63.71 L365.14,64.12 L365.25,64.54 L365.38,64.95 L365.53,65.36 L365.69,65.75 L365.85,66.13 L366.00,66.50 L366.16,66.86 L366.34,67.21 L366.54,67.55 L366.74,67.89 L366.93,68.20 L367.11,68.50 L367.27,68.76 L367.40,69.00 L367.50,69.20 L367.58,69.36 L367.65,69.48 L367.70,69.59 L367.74,69.69 L367.76,69.79 L367.78,69.89 L367.78,70.00 L367.78,70.12 L367.76,70.23 L367.74,70.34 L367.70,70.46 L367.65,70.57 L367.58,70.70 L367.50,70.84 L367.40,71.00 L367.28,71.16 L367.15,71.32 L367.01,71.49 L366.85,71.66 L366.67,71.86 L366.47,72.10 L366.24,72.37 L366.00,72.70 L365.72,73.09 L365.42,73.55 L365.08,74.04 L364.73,74.58 L364.37,75.12 L364.01,75.67 L363.65,76.20 L363.30,76.70 L362.95,77.19 L362.57,77.68 L362.19,78.18 L361.81,78.67 L361.45,79.14 L361.12,79.59 L360.83,80.02 L360.60,80.40 L360.42,80.74 L360.29,81.05 L360.20,81.33 L360.14,81.59 L360.10,81.83 L360.09,82.05 L360.09,82.28 L360.10,82.50 L360.13,82.73 L360.21,82.95 L360.31,83.17 L360.42,83.38 L360.54,83.57 L360.65,83.74 L360.74,83.89 L360.80,84.00 L374.80,84.00 L374.86,83.89 L374.95,83.74 L375.06,83.57 L375.18,83.38 L375.29,83.17 L375.39,82.95 L375.47,82.73 L375.50,82.50 L375.51,82.28 L375.51,82.05 L375.50,81.83 L375.46,81.59 L375.40,81.33 L375.31,81.05 L375.18,80.74 L375.00,80.40 L374.77,80.02 L374.48,79.59 L374.15,79.14 L373.79,78.67 L373.41,78.18 L373.03,77.68 L372.65,77.19 L372.30,76.70 L371.95,76.20 L371.59,75.67 L371.23,75.12 L370.87,74.58 L370.52,74.04 L370.18,73.55 L369.88,73.09 L369.60,72.70 L369.36,72.37 L369.13,72.10 L368.93,71.86 L368.75,71.66 L368.59,71.49 L368.45,71.32 L368.32,71.16 L368.20,71.00 L368.10,70.84 L368.02,70.70 L367.95,70.57 L367.90,70.46 L367.86,70.34 L367.84,70.23 L367.82,70.12 L367.82,70.00 L367.82,69.89 L367.84,69.79 L367.86,69.69 L367.90,69.59 L367.95,69.48 L368.02,69.36 L368.10,69.20 L368.20,69.00 L368.33,68.76 L368.49,68.50 L368.67,68.20 L368.86,67.89 L369.06,67.55 L369.26,67.21 L369.44,66.86 L369.60,66.50 L369.75,66.13 L369.91,65.75 L370.07,65.36 L370.22,64.95 L370.35,64.54 L370.46,64.12 L370.53,63.71 L370.55,63.30 L370.52,62.89 L370.45,62.48 L370.35,62.06 L370.22,61.64 L370.07,61.22 L369.91,60.81 L369.75,60.40 L369.60,60.00 L369.45,59.60 L369.28,59.19 L369.10,58.79 L368.92,58.39 L368.74,58.00 L368.58,57.64 L368.43,57.30 L368.30,57.00 L368.20,56.80 L368.11,56.73 L368.04,56.72 L367.98,56.72 L367.93,56.66 L367.89,56.47 L367.85,56.11 L367.82,55.50 L367.80,54.56 L367.80,53.30 L367.80,51.83 L367.80,50.25 L367.80,48.67 L367.80,47.20 L367.80,45.94 L367.82,45.00 L367.84,44.39 L367.86,44.02 L367.89,43.82 L367.92,43.75 L367.95,43.74 L367.99,43.73 L368.04,43.67 L368.10,43.50 L368.16,43.24 L368.23,42.95 L368.31,42.64 L368.39,42.31 L368.48,41.98 L368.58,41.65 L368.69,41.32 L368.80,41.00 L368.92,40.69 L369.04,40.40 L369.17,40.11 L369.30,39.81 L369.45,39.51 L369.61,39.20 L369.79,38.86 L370.00,38.50 L370.24,38.10 L370.51,37.66 L370.80,37.19 L371.11,36.72 L371.43,36.25 L371.73,35.79 L372.03,35.37 L372.30,35.00 L372.54,34.68 L372.76,34.41 L372.96,34.16 L373.16,33.94 L373.36,33.72 L373.58,33.50 L373.82,33.26 L374.10,33.00 L374.42,32.71 L374.78,32.39 L375.16,32.07 L375.56,31.74 L375.96,31.41 L376.36,31.09 L376.74,30.78 L377.10,30.50 L377.44,30.24 L377.76,30.01 L378.07,29.79 L378.38,29.58 L378.68,29.37 L378.98,29.16 L379.29,28.94 L379.60,28.70 L379.92,28.44 L380.23,28.17 L380.54,27.89 L380.86,27.61 L381.18,27.32 L381.51,27.04 L381.85,26.76 L382.20,26.50 L382.57,26.25 L382.97,26.00 L383.37,25.75 L383.79,25.51 L384.20,25.28 L384.61,25.05 L385.02,24.82 L385.40,24.60 L385.75,24.39 L386.06,24.18 L386.36,23.99 L386.65,23.79 L386.96,23.60 L387.31,23.41 L387.72,23.21 L388.20,23.00 L388.78,22.78 L389.44,22.55 L390.17,22.31 L390.93,22.07 L391.69,21.84 L392.45,21.61 L393.16,21.40 L393.80,21.20 L394.37,21.02 L394.91,20.86 L395.40,20.72 L395.88,20.58 L396.35,20.45 L396.82,20.31 L397.30,20.16 L397.80,20.00 L398.34,19.83 L398.90,19.66 L399.47,19.48 L400.04,19.29 L400.61,19.10 L401.14,18.91 L401.65,18.71 L402.10,18.50 L402.55,18.29 L403.01,18.07 L403.47,17.84 L403.89,17.61 L404.24,17.37 L404.50,17.13 L404.63,16.87 L404.60,16.60 L404.39,16.31 L404.00,15.99 L403.47,15.65 L402.86,15.31 L402.19,14.98 L401.51,14.65 L400.87,14.36 L400.30,14.10 L399.78,13.88 L399.24,13.67 L398.71,13.49 L398.19,13.33 L397.68,13.18 L397.19,13.05 L396.73,12.92 L396.30,12.80 L395.90,12.69 L395.51,12.59 L395.14,12.50 L394.80,12.42 L394.49,12.35 L394.21,12.29 L393.98,12.24 L393.80,12.20 Z" fill="#FAE8BC" stroke="none"/>
<path d="M393.80,12.20 L341.80,12.20 L341.80,12.20 L341.62,12.24 L341.39,12.29 L341.11,12.35 L340.80,12.42 L340.46,12.50 L340.09,12.59 L339.70,12.69 L339.30,12.80 L338.87,12.92 L338.41,13.05 L337.92,13.18 L337.41,13.33 L336.89,13.49 L336.36,13.67 L335.82,13.88 L335.30,14.10 L334.73,14.36 L334.09,14.65 L333.41,14.98 L332.74,15.31 L332.13,15.65 L331.60,15.99 L331.21,16.31 L331.00,16.60 L330.97,16.87 L331.10,17.13 L331.36,17.37 L331.71,17.61 L332.13,17.84 L332.59,18.07 L333.05,18.29 L333.50,18.50 L333.95,18.71 L334.46,18.91 L334.99,19.10 L335.56,19.29 L336.13,19.48 L336.70,19.66 L337.26,19.83 L337.80,20.00 L338.30,20.16 L338.78,20.31 L339.25,20.45 L339.72,20.58 L340.20,20.72 L340.69,20.86 L341.23,21.02 L341.80,21.20 L342.44,21.40 L343.15,21.61 L343.91,21.84 L344.68,22.07 L345.43,22.31 L346.16,22.55 L346.82,22.78 L347.40,23.00 L347.88,23.21 L348.29,23.41 L348.64,23.60 L348.95,23.79 L349.24,23.99 L349.54,24.18 L349.85,24.39 L350.20,24.60 L350.58,24.82 L350.99,25.05 L351.40,25.28 L351.81,25.51 L352.23,25.75 L352.63,26.00 L353.03,26.25 L353.40,26.50 L353.75,26.76 L354.09,27.04 L354.42,27.32 L354.74,27.61 L355.06,27.89 L355.37,28.17 L355.68,28.44 L356.00,28.70 L356.31,28.94 L356.62,29.16 L356.92,29.37 L357.23,29.58 L357.53,29.79 L357.84,30.01 L358.16,30.24 L358.50,30.50 L358.86,30.78 L359.24,31.09 L359.64,31.41 L360.04,31.74 L360.44,32.07 L360.82,32.39 L361.18,32.71 L361.50,33.00 L361.78,33.26 L362.02,33.50 L362.24,33.72 L362.44,33.94 L362.64,34.16 L362.84,34.41 L363.06,34.68 L363.30,35.00 L363.57,35.37 L363.87,35.79 L364.17,36.25 L364.49,36.72 L364.80,37.19 L365.09,37.66 L365.36,38.10 L365.60,38.50 L365.81,38.86 L365.99,39.20 L366.15,39.51 L366.30,39.81 L366.43,40.11 L366.56,40.40 L366.68,40.69 L366.80,41.00 L366.91,41.32 L367.02,41.65 L367.13,41.98 L367.30,42.31 L367.43,42.64 L367.53,42.95 L367.61,43.24 L367.67,43.50 L367.72,43.67 L367.75,43.73 L367.77,43.74 L367.78,43.75 L367.79,43.82 L367.79,44.02 L367.80,44.39 L367.80,45.00 L367.80,45.94 L367.80,47.20 L367.80,48.67 L367.80,50.25 L367.80,51.83 L367.80,53.30 L367.80,54.56 L367.80,55.50 L367.80,56.11 L367.79,56.47 L367.78,56.66 L367.75,56.72 L367.72,56.72 L367.66,56.73 L367.57,56.80 L367.44,57.00 L367.24,57.30 L367.02,57.64 L366.86,58.00 L366.68,58.39 L366.50,58.79 L366.32,59.19 L366.15,59.60 L366.00,60.00 L365.85,60.40 L365.69,60.81 L365.53,61.22 L365.38,61.64 L365.25,62.06 L365.15,62.48 L365.08,62.89 L365.05,63.30 L365.07,63.71 L365.14,64.12 L365.25,64.54 L365.38,64.95 L365.53,65.36 L365.69,65.75 L365.85,66.13 L366.00,66.50 L366.16,66.86 L366.34,67.21 L366.54,67.55 L366.74,67.89 L366.93,68.20 L367.12,68.50 L367.40,68.76 L367.57,69.00 L367.67,69.20 L367.73,69.36 L367.77,69.48 L367.79,69.59 L367.79,69.69 L367.80,69.79 L367.80,69.89 L367.80,70.00 L367.80,70.12 L367.80,70.23 L367.79,70.34 L367.79,70.46 L367.77,70.57 L367.73,70.70 L367.67,70.84 L367.57,71.00 L367.42,71.16 L367.20,71.32 L367.01,71.49 L366.85,71.66 L366.67,71.86 L366.47,72.10 L366.24,72.37 L366.00,72.70 L365.72,73.09 L365.42,73.55 L365.08,74.04 L364.73,74.58 L364.37,75.12 L364.01,75.67 L363.65,76.20 L363.30,76.70 L362.95,77.19 L362.57,77.68 L362.19,78.18 L361.81,78.67 L361.45,79.14 L361.12,79.59 L360.83,80.02 L360.60,80.40 L360.42,80.74 L360.29,81.05 L360.20,81.33 L360.14,81.59 L360.10,81.83 L360.09,82.05 L360.09,82.28 L360.10,82.50 L360.13,82.73 L360.21,82.95 L360.31,83.17 L360.42,83.38 L360.54,83.57 L360.65,83.74 L360.74,83.89 L360.80,84.00 L374.80,84.00 M374.80,84.00 L374.86,83.89 L374.95,83.74 L375.06,83.57 L375.18,83.38 L375.29,83.17 L375.39,82.95 L375.47,82.73 L375.50,82.50 L375.51,82.28 L375.51,82.05 L375.50,81.83 L375.46,81.59 L375.40,81.33 L375.31,81.05 L375.18,80.74 L375.00,80.40 L374.77,80.02 L374.48,79.59 L374.15,79.14 L373.79,78.67 L373.41,78.18 L373.03,77.68 L372.65,77.19 L372.30,76.70 L371.95,76.20 L371.59,75.67 L371.23,75.12 L370.87,74.58 L370.52,74.04 L370.18,73.55 L369.88,73.09 L369.60,72.70 L369.36,72.37 L369.13,72.10 L368.93,71.86 L368.75,71.66 L368.59,71.49 L368.40,71.32 M368.48,68.50 L368.67,68.20 L368.86,67.89 L369.06,67.55 L369.26,67.21 L369.44,66.86 L369.60,66.50 L369.75,66.13 L369.91,65.75 L370.07,65.36 L370.22,64.95 L370.35,64.54 L370.46,64.12 L370.53,63.71 L370.55,63.30 L370.52,62.89 L370.45,62.48 L370.35,62.06 L370.22,61.64 L370.07,61.22 L369.91,60.81 L369.75,60.40 L369.60,60.00 L369.45,59.60 L369.28,59.19 L369.10,58.79 L368.92,58.39 L368.74,58.00 L368.58,57.64 L368.36,57.30 M368.47,41.98 L368.58,41.65 L368.69,41.32 L368.80,41.00 L368.92,40.69 L369.04,40.40 L369.17,40.11 L369.30,39.81 L369.45,39.51 L369.61,39.20 L369.79,38.86 L370.00,38.50 L370.24,38.10 L370.51,37.66 L370.80,37.19 L371.11,36.72 L371.43,36.25 L371.73,35.79 L372.03,35.37 L372.30,35.00 L372.54,34.68 L372.76,34.41 L372.96,34.16 L373.16,33.94 L373.36,33.72 L373.58,33.50 L373.82,33.26 L374.10,33.00 L374.42,32.71 L374.78,32.39 L375.16,32.07 L375.56,31.74 L375.96,31.41 L376.36,31.09 L376.74,30.78 L377.10,30.50 L377.44,30.24 L377.76,30.01 L378.07,29.79 L378.38,29.58 L378.68,29.37 L378.98,29.16 L379.29,28.94 L379.60,28.70 L379.92,28.44 L380.23,28.17 L380.54,27.89 L380.86,27.61 L381.18,27.32 L381.51,27.04 L381.85,26.76 L382.20,26.50 L382.57,26.25 L382.97,26.00 L383.37,25.75 L383.79,25.51 L384.20,25.28 L384.61,25.05 L385.02,24.82 L385.40,24.60 L385.75,24.39 L386.06,24.18 L386.36,23.99 L386.65,23.79 L386.96,23.60 L387.31,23.41 L387.72,23.21 L388.20,23.00 L388.78,22.78 L389.44,22.55 L390.17,22.31 L390.93,22.07 L391.69,21.84 L392.45,21.61 L393.16,21.40 L393.80,21.20 L394.37,21.02 L394.91,20.86 L395.40,20.72 L395.88,20.58 L396.35,20.45 L396.82,20.31 L397.30,20.16 L397.80,20.00 L398.34,19.83 L398.90,19.66 L399.47,19.48 L400.04,19.29 L400.61,19.10 L401.14,18.91 L401.65,18.71 L402.10,18.50 L402.55,18.29 L403.01,18.07 L403.47,17.84 L403.89,17.61 L404.24,17.37 L404.50,17.13 L404.63,16.87 L404.60,16.60 L404.39,16.31 L404.00,15.99 L403.47,15.65 L402.86,15.31 L402.19,14.98 L401.51,14.65 L400.87,14.36 L400.30,14.10 L399.78,13.88 L399.24,13.67 L398.71,13.49 L398.19,13.33 L397.68,13.18 L397.19,13.05 L396.73,12.92 L396.30,12.80 L395.90,12.69 L395.51,12.59 L395.14,12.50 L394.80,12.42 L394.49,12.35 L394.21,12.29 L393.98,12.24 L393.80,12.20" fill="none" stroke="#888888" stroke-width="0.72" stroke-linejoin="round"/>
</g>
<line x1="367.80" y1="10.00" x2="367.80" y2="33.00" stroke="#666666" stroke-width="1.0"/>
<circle cx="342.4" cy="18.1" r="2.8" fill="#EDB120"/>
<circle cx="348.1" cy="20.7" r="2.8" fill="#EDB120"/>
<circle cx="351.8" cy="22.1" r="2.8" fill="#EDB120"/>
<circle cx="353.4" cy="12.4" r="2.8" fill="#EDB120"/>
<circle cx="354.3" cy="14.2" r="2.8" fill="#EDB120"/>
<circle cx="358.8" cy="13.8" r="2.8" fill="#EDB120"/>
<circle cx="360.8" cy="27.1" r="2.8" fill="#EDB120"/>
<circle cx="363.5" cy="28.8" r="2.8" fill="#EDB120"/>
<circle cx="367.4" cy="37.1" r="2.8" fill="#EDB120"/>
<circle cx="371.0" cy="15.0" r="2.8" fill="#EDB120"/>
<circle cx="379.1" cy="10.9" r="2.8" fill="#EDB120"/>
<circle cx="375.7" cy="18.3" r="2.8" fill="#EDB120"/>
<circle cx="378.7" cy="15.8" r="2.8" fill="#EDB120"/>
<circle cx="381.0" cy="18.2" r="2.8" fill="#EDB120"/>
<circle cx="385.8" cy="14.1" r="2.8" fill="#EDB120"/>
<circle cx="386.7" cy="18.7" r="2.8" fill="#EDB120"/>
<circle cx="394.2" cy="18.6" r="2.8" fill="#EDB120"/>
<circle cx="396.6" cy="16.7" r="2.8" fill="#EDB120"/>
<circle cx="372.0" cy="25.6" r="2.8" fill="#EDB120"/>
<circle cx="367.4" cy="62.8" r="2.8" fill="#EDB120"/>
<circle cx="367.4" cy="64.6" r="2.8" fill="#EDB120"/>
<circle cx="363.7" cy="83.0" r="2.8" fill="#EDB120"/>
<circle cx="371.6" cy="79.4" r="2.8" fill="#EDB120"/>
<circle cx="373.6" cy="81.6" r="2.8" fill="#EDB120"/>
<rect x="366.40" y="21.50" width="2.8" height="6.80" fill="#737373"/>
<circle cx="367.80" cy="18.40" r="3.2" fill="#fff" stroke="#808080" stroke-width="1.0"/>
<g clip-path="url(#ax)">
<path d="M462.50,13.10 L462.21,13.22 L461.81,13.38 L461.33,13.56 L460.81,13.76 L460.26,13.99 L459.73,14.24 L459.23,14.51 L458.80,14.80 L458.42,15.12 L458.05,15.48 L457.70,15.86 L457.37,16.27 L457.06,16.68 L456.78,17.08 L456.52,17.45 L456.30,17.80 L456.10,18.11 L455.93,18.39 L455.78,18.66 L455.66,18.91 L455.56,19.17 L455.51,19.43 L455.48,19.70 L455.50,20.00 L455.56,20.33 L455.67,20.68 L455.81,21.05 L455.99,21.43 L456.19,21.80 L456.41,22.16 L456.65,22.50 L456.90,22.80 L457.16,23.07 L457.46,23.31 L457.77,23.53 L458.10,23.73 L458.44,23.93 L458.79,24.11 L459.15,24.30 L459.50,24.50 L459.86,24.70 L460.22,24.89 L460.60,25.07 L460.98,25.26 L461.36,25.44 L461.75,25.62 L462.13,25.81 L462.50,26.00 L462.87,26.19 L463.24,26.39 L463.61,26.58 L463.98,26.78 L464.34,26.98 L464.70,27.18 L465.05,27.39 L465.40,27.60 L465.74,27.81 L466.07,28.00 L466.40,28.19 L466.73,28.39 L467.05,28.61 L467.36,28.84 L467.68,29.10 L468.00,29.40 L468.31,29.73 L468.59,30.10 L468.87,30.49 L469.15,30.90 L469.44,31.33 L469.76,31.78 L470.11,32.23 L470.50,32.70 L470.95,33.18 L471.45,33.69 L471.99,34.21 L472.56,34.74 L473.12,35.29 L473.68,35.83 L474.21,36.37 L474.70,36.90 L475.15,37.42 L475.57,37.95 L475.98,38.48 L476.38,39.00 L476.76,39.52 L477.14,40.05 L477.52,40.57 L477.90,41.10 L478.29,41.62 L478.68,42.15 L479.07,42.68 L479.46,43.20 L479.84,43.73 L480.20,44.25 L480.56,44.78 L480.90,45.30 L481.23,45.82 L481.54,46.35 L481.85,46.88 L482.14,47.40 L482.43,47.92 L482.70,48.45 L482.96,48.97 L483.20,49.50 L483.43,50.02 L483.66,50.53 L483.87,51.04 L484.07,51.55 L484.25,52.07 L484.42,52.59 L484.57,53.14 L484.70,53.70 L484.81,54.28 L484.88,54.85 L484.94,55.44 L484.98,56.04 L485.02,56.67 L485.06,57.31 L485.10,57.99 L485.15,58.70 L485.21,59.46 L485.26,60.28 L485.31,61.14 L485.36,62.01 L485.42,62.89 L485.50,63.76 L485.59,64.60 L485.70,65.40 L485.83,66.16 L485.98,66.89 L486.14,67.60 L486.32,68.30 L486.51,68.98 L486.71,69.66 L486.93,70.33 L487.15,71.00 L487.39,71.67 L487.65,72.32 L487.93,72.98 L488.22,73.62 L488.51,74.25 L488.80,74.88 L489.08,75.49 L489.35,76.10 L489.61,76.70 L489.87,77.30 L490.13,77.88 L490.39,78.46 L490.63,79.03 L490.87,79.57 L491.09,80.10 L491.30,80.60 L491.49,81.08 L491.67,81.55 L491.84,82.00 L491.99,82.43 L492.14,82.84 L492.27,83.22 L492.39,83.58 L492.50,83.90 L492.60,84.12 L492.68,84.21 L492.75,84.23 L492.81,84.25 L492.87,84.32 L492.91,84.51 L492.95,84.89 L492.98,85.50 L493.00,86.45 L493.00,87.71 L493.00,89.18 L493.00,90.76 L493.00,92.33 L493.00,93.80 L493.00,95.06 L492.98,96.00 L492.95,96.60 L492.91,96.94 L492.87,97.09 L492.81,97.12 L492.75,97.11 L492.68,97.12 L492.60,97.23 L492.50,97.50 L492.38,97.92 L492.25,98.40 L492.09,98.95 L491.93,99.53 L491.77,100.14 L491.60,100.77 L491.45,101.39 L491.30,102.00 L491.16,102.60 L491.02,103.21 L490.89,103.82 L490.75,104.44 L490.63,105.07 L490.51,105.71 L490.40,106.35 L490.30,107.00 L490.21,107.65 L490.12,108.32 L490.04,108.99 L489.97,109.66 L489.91,110.34 L489.87,111.03 L489.85,111.71 L489.85,112.40 L489.87,113.09 L489.92,113.80 L489.99,114.51 L490.07,115.23 L490.17,115.94 L490.27,116.64 L490.38,117.33 L490.50,118.00 L490.63,118.66 L490.77,119.32 L490.92,119.96 L491.08,120.60 L491.24,121.22 L491.40,121.83 L491.56,122.43 L491.70,123.00 L491.84,123.56 L491.98,124.13 L492.12,124.68 L492.26,125.22 L492.39,125.73 L492.51,126.20 L492.61,126.63 L492.70,127.00 L492.77,126.49 L492.83,124.75 L492.87,122.49 L492.90,120.44 L492.93,119.29 L492.95,119.78 L492.96,122.61 L492.98,128.50 L493.00,138.72 L493.00,153.15 L493.00,170.37 L493.00,189.00 L493.00,207.63 L493.00,224.85 L493.00,239.28 L492.98,249.50 L492.95,255.39 L492.92,258.22 L492.88,258.71 L492.83,257.56 L492.78,255.51 L492.72,253.25 L492.66,251.51 L492.60,251.00 L492.54,251.37 L492.47,251.80 L492.40,252.27 L492.33,252.78 L492.26,253.32 L492.18,253.87 L492.09,254.44 L492.00,255.00 L491.90,255.58 L491.79,256.20 L491.67,256.85 L491.54,257.50 L491.42,258.15 L491.30,258.80 L491.20,259.42 L491.10,260.00 L491.01,260.56 L490.93,261.11 L490.86,261.65 L490.79,262.18 L490.73,262.68 L490.67,263.15 L490.63,263.59 L490.60,264.00 L490.58,264.38 L490.59,264.73 L490.60,265.05 L490.62,265.35 L490.64,265.62 L490.67,265.85 L490.69,266.04 L490.70,266.20 L495.30,266.20 L495.31,266.04 L495.33,265.85 L495.36,265.62 L495.38,265.35 L495.40,265.05 L495.41,264.73 L495.42,264.38 L495.40,264.00 L495.37,263.59 L495.33,263.15 L495.27,262.68 L495.21,262.18 L495.14,261.65 L495.07,261.11 L494.99,260.56 L494.90,260.00 L494.80,259.42 L494.70,258.80 L494.58,258.15 L494.46,257.50 L494.33,256.85 L494.21,256.20 L494.10,255.58 L494.00,255.00 L493.91,254.44 L493.82,253.87 L493.74,253.32 L493.67,252.78 L493.60,252.27 L493.53,251.80 L493.46,251.37 L493.40,251.00 L493.34,251.51 L493.28,253.25 L493.22,255.51 L493.17,257.56 L493.12,258.71 L493.08,258.22 L493.05,255.39 L493.02,249.50 L493.00,239.28 L493.00,224.85 L493.00,207.63 L493.00,189.00 L493.00,170.37 L493.00,153.15 L493.00,138.72 L493.02,128.50 L493.04,122.61 L493.05,119.78 L493.07,119.29 L493.10,120.44 L493.13,122.49 L493.17,124.75 L493.23,126.49 L493.30,127.00 L493.39,126.63 L493.49,126.20 L493.61,125.73 L493.74,125.22 L493.88,124.68 L494.02,124.13 L494.16,123.56 L494.30,123.00 L494.44,122.43 L494.60,121.83 L494.76,121.22 L494.92,120.60 L495.08,119.96 L495.23,119.32 L495.37,118.66 L495.50,118.00 L495.62,117.33 L495.73,116.64 L495.83,115.94 L495.93,115.23 L496.01,114.51 L496.08,113.80 L496.13,113.09 L496.15,112.40 L496.15,111.71 L496.13,111.03 L496.09,110.34 L496.03,109.66 L495.96,108.99 L495.88,108.32 L495.79,107.65 L495.70,107.00 L495.60,106.35 L495.49,105.71 L495.37,105.07 L495.25,104.44 L495.11,103.82 L494.98,103.21 L494.84,102.60 L494.70,102.00 L494.55,101.39 L494.40,100.77 L494.23,100.14 L494.07,99.53 L493.91,98.95 L493.75,98.40 L493.62,97.92 L493.50,97.50 L493.40,97.23 L493.32,97.12 L493.25,97.11 L493.19,97.12 L493.13,97.09 L493.09,96.94 L493.05,96.60 L493.02,96.00 L493.00,95.06 L493.00,93.80 L493.00,92.33 L493.00,90.76 L493.00,89.18 L493.00,87.71 L493.00,86.45 L493.02,85.50 L493.05,84.89 L493.09,84.51 L493.13,84.32 L493.19,84.25 L493.25,84.23 L493.32,84.21 L493.40,84.12 L493.50,83.90 L493.61,83.58 L493.73,83.22 L493.86,82.84 L494.01,82.43 L494.16,82.00 L494.33,81.55 L494.51,81.08 L494.70,80.60 L494.91,80.10 L495.13,79.57 L495.37,79.03 L495.61,78.46 L495.87,77.88 L496.13,77.30 L496.39,76.70 L496.65,76.10 L496.92,75.49 L497.20,74.88 L497.49,74.25 L497.78,73.62 L498.07,72.98 L498.35,72.32 L498.61,71.67 L498.85,71.00 L499.07,70.33 L499.29,69.66 L499.49,68.98 L499.68,68.30 L499.86,67.60 L500.02,66.89 L500.17,66.16 L500.30,65.40 L500.41,64.60 L500.50,63.76 L500.58,62.89 L500.64,62.01 L500.69,61.14 L500.74,60.28 L500.79,59.46 L500.85,58.70 L500.90,57.99 L500.94,57.31 L500.98,56.67 L501.02,56.04 L501.06,55.44 L501.12,54.85 L501.19,54.28 L501.30,53.70 L501.43,53.14 L501.58,52.59 L501.75,52.07 L501.93,51.55 L502.13,51.04 L502.34,50.53 L502.57,50.02 L502.80,49.50 L503.04,48.97 L503.30,48.45 L503.57,47.92 L503.86,47.40 L504.15,46.88 L504.46,46.35 L504.77,45.82 L505.10,45.30 L505.44,44.78 L505.80,44.25 L506.16,43.73 L506.54,43.20 L506.93,42.68 L507.32,42.15 L507.71,41.62 L508.10,41.10 L508.48,40.57 L508.86,40.05 L509.24,39.52 L509.62,39.00 L510.02,38.48 L510.43,37.95 L510.85,37.42 L511.30,36.90 L511.79,36.37 L512.32,35.83 L512.88,35.29 L513.44,34.74 L514.01,34.21 L514.55,33.69 L515.05,33.18 L515.50,32.70 L515.89,32.23 L516.24,31.78 L516.56,31.33 L516.85,30.90 L517.13,30.49 L517.41,30.10 L517.69,29.73 L518.00,29.40 L518.32,29.10 L518.64,28.84 L518.95,28.61 L519.27,28.39 L519.60,28.19 L519.93,28.00 L520.26,27.81 L520.60,27.60 L520.95,27.39 L521.30,27.18 L521.66,26.98 L522.02,26.78 L522.39,26.58 L522.76,26.39 L523.13,26.19 L523.50,26.00 L523.87,25.81 L524.25,25.62 L524.64,25.44 L525.02,25.26 L525.40,25.07 L525.78,24.89 L526.14,24.70 L526.50,24.50 L526.85,24.30 L527.21,24.11 L527.56,23.93 L527.90,23.73 L528.23,23.53 L528.54,23.31 L528.84,23.07 L529.10,22.80 L529.35,22.50 L529.59,22.16 L529.81,21.80 L530.01,21.43 L530.19,21.05 L530.33,20.68 L530.44,20.33 L530.50,20.00 L530.52,19.70 L530.49,19.43 L530.44,19.17 L530.34,18.91 L530.22,18.66 L530.07,18.39 L529.90,18.11 L529.70,17.80 L529.48,17.45 L529.22,17.08 L528.94,16.68 L528.63,16.27 L528.30,15.86 L527.95,15.48 L527.58,15.12 L527.20,14.80 L526.77,14.51 L526.27,14.24 L525.74,13.99 L525.19,13.76 L524.67,13.56 L524.19,13.38 L523.79,13.22 L523.50,13.10 Z" fill="#D8C1DD" stroke="none"/>
<path d="M523.50,13.10 L462.50,13.10 L462.50,13.10 L462.21,13.22 L461.81,13.38 L461.33,13.56 L460.81,13.76 L460.26,13.99 L459.73,14.24 L459.23,14.51 L458.80,14.80 L458.42,15.12 L458.05,15.48 L457.70,15.86 L457.37,16.27 L457.06,16.68 L456.78,17.08 L456.52,17.45 L456.30,17.80 L456.10,18.11 L455.93,18.39 L455.78,18.66 L455.66,18.91 L455.56,19.17 L455.51,19.43 L455.48,19.70 L455.50,20.00 L455.56,20.33 L455.67,20.68 L455.81,21.05 L455.99,21.43 L456.19,21.80 L456.41,22.16 L456.65,22.50 L456.90,22.80 L457.16,23.07 L457.46,23.31 L457.77,23.53 L458.10,23.73 L458.44,23.93 L458.79,24.11 L459.15,24.30 L459.50,24.50 L459.86,24.70 L460.22,24.89 L460.60,25.07 L460.98,25.26 L461.36,25.44 L461.75,25.62 L462.13,25.81 L462.50,26.00 L462.87,26.19 L463.24,26.39 L463.61,26.58 L463.98,26.78 L464.34,26.98 L464.70,27.18 L465.05,27.39 L465.40,27.60 L465.74,27.81 L466.07,28.00 L466.40,28.19 L466.73,28.39 L467.05,28.61 L467.36,28.84 L467.68,29.10 L468.00,29.40 L468.31,29.73 L468.59,30.10 L468.87,30.49 L469.15,30.90 L469.44,31.33 L469.76,31.78 L470.11,32.23 L470.50,32.70 L470.95,33.18 L471.45,33.69 L471.99,34.21 L472.56,34.74 L473.12,35.29 L473.68,35.83 L474.21,36.37 L474.70,36.90 L475.15,37.42 L475.57,37.95 L475.98,38.48 L476.38,39.00 L476.76,39.52 L477.14,40.05 L477.52,40.57 L477.90,41.10 L478.29,41.62 L478.68,42.15 L479.07,42.68 L479.46,43.20 L479.84,43.73 L480.20,44.25 L480.56,44.78 L480.90,45.30 L481.23,45.82 L481.54,46.35 L481.85,46.88 L482.14,47.40 L482.43,47.92 L482.70,48.45 L482.96,48.97 L483.20,49.50 L483.43,50.02 L483.66,50.53 L483.87,51.04 L484.07,51.55 L484.25,52.07 L484.42,52.59 L484.57,53.14 L484.70,53.70 L484.81,54.28 L484.88,54.85 L484.94,55.44 L484.98,56.04 L485.02,56.67 L485.06,57.31 L485.10,57.99 L485.15,58.70 L485.21,59.46 L485.26,60.28 L485.31,61.14 L485.36,62.01 L485.42,62.89 L485.50,63.76 L485.59,64.60 L485.70,65.40 L485.83,66.16 L485.98,66.89 L486.14,67.60 L486.32,68.30 L486.51,68.98 L486.71,69.66 L486.93,70.33 L487.15,71.00 L487.39,71.67 L487.65,72.32 L487.93,72.98 L488.22,73.62 L488.51,74.25 L488.80,74.88 L489.08,75.49 L489.35,76.10 L489.61,76.70 L489.87,77.30 L490.13,77.88 L490.39,78.46 L490.63,79.03 L490.87,79.57 L491.09,80.10 L491.30,80.60 L491.49,81.08 L491.67,81.55 L491.84,82.00 L491.99,82.43 L492.14,82.84 L492.27,83.22 L492.47,83.58 L492.64,83.90 L492.77,84.12 L492.86,84.21 L492.91,84.23 L492.95,84.25 L492.97,84.32 L492.99,84.51 L493.00,84.89 L493.00,85.50 L493.00,86.45 L493.00,87.71 L493.00,89.18 L493.00,90.76 L493.00,92.33 L493.00,93.80 L493.00,95.06 L493.00,96.00 L493.00,96.60 L492.99,96.94 L492.97,97.09 L492.95,97.12 L492.91,97.11 L492.86,97.12 L492.77,97.23 L492.64,97.50 L492.46,97.92 L492.25,98.40 L492.09,98.95 L491.93,99.53 L491.77,100.14 L491.60,100.77 L491.45,101.39 L491.30,102.00 L491.16,102.60 L491.02,103.21 L490.89,103.82 L490.75,104.44 L490.63,105.07 L490.51,105.71 L490.40,106.35 L490.30,107.00 L490.21,107.65 L490.12,108.32 L490.04,108.99 L489.97,109.66 L489.91,110.34 L489.87,111.03 L489.85,111.71 L489.85,112.40 L489.87,113.09 L489.92,113.80 L489.99,114.51 L490.07,115.23 L490.17,115.94 L490.27,116.64 L490.38,117.33 L490.50,118.00 L490.63,118.66 L490.77,119.32 L490.92,119.96 L491.08,120.60 L491.24,121.22 L491.40,121.83 L491.56,122.43 L491.70,123.00 L491.84,123.56 L491.98,124.13 L492.12,124.68 L492.26,125.22 L492.46,125.73 L492.65,126.20 L492.78,126.63 L492.87,127.00 L492.93,126.49 L492.96,124.75 L492.98,122.49 L492.99,120.44 L492.99,119.29 L493.00,119.78 L493.00,122.61 L493.00,128.50 L493.00,138.72 L493.00,153.15 L493.00,170.37 L493.00,189.00 L493.00,207.63 L493.00,224.85 L493.00,239.28 L493.00,249.50 L493.00,255.39 L492.99,258.22 L492.98,258.71 L492.96,257.56 L492.93,255.51 L492.89,253.25 L492.84,251.51 L492.77,251.00 L492.69,251.37 L492.60,251.80 L492.49,252.27 L492.36,252.78 L492.26,253.32 L492.18,253.87 L492.09,254.44 L492.00,255.00 L491.90,255.58 L491.79,256.20 L491.67,256.85 L491.54,257.50 L491.42,258.15 L491.30,258.80 L491.20,259.42 L491.10,260.00 L491.01,260.56 L490.93,261.11 L490.86,261.65 L490.79,262.18 L490.73,262.68 L490.67,263.15 L490.63,263.59 L490.60,264.00 L490.58,264.38 L490.59,264.73 L490.60,265.05 L490.62,265.35 L490.64,265.62 L490.67,265.85 L490.69,266.04 L490.70,266.20 L495.30,266.20 M495.30,266.20 L495.31,266.04 L495.33,265.85 L495.36,265.62 L495.38,265.35 L495.40,265.05 L495.41,264.73 L495.42,264.38 L495.40,264.00 L495.37,263.59 L495.33,263.15 L495.27,262.68 L495.21,262.18 L495.14,261.65 L495.07,261.11 L494.99,260.56 L494.90,260.00 L494.80,259.42 L494.70,258.80 L494.58,258.15 L494.46,257.50 L494.33,256.85 L494.21,256.20 L494.10,255.58 L494.00,255.00 L493.91,254.44 L493.82,253.87 L493.74,253.32 L493.64,252.78 M493.54,125.73 L493.74,125.22 L493.88,124.68 L494.02,124.13 L494.16,123.56 L494.30,123.00 L494.44,122.43 L494.60,121.83 L494.76,121.22 L494.92,120.60 L495.08,119.96 L495.23,119.32 L495.37,118.66 L495.50,118.00 L495.62,117.33 L495.73,116.64 L495.83,115.94 L495.93,115.23 L496.01,114.51 L496.08,113.80 L496.13,113.09 L496.15,112.40 L496.15,111.71 L496.13,111.03 L496.09,110.34 L496.03,109.66 L495.96,108.99 L495.88,108.32 L495.79,107.65 L495.70,107.00 L495.60,106.35 L495.49,105.71 L495.37,105.07 L495.25,104.44 L495.11,103.82 L494.98,103.21 L494.84,102.60 L494.70,102.00 L494.55,101.39 L494.40,100.77 L494.23,100.14 L494.07,99.53 L493.91,98.95 L493.75,98.40 L493.54,97.92 M493.53,83.58 L493.73,83.22 L493.86,82.84 L494.01,82.43 L494.16,82.00 L494.33,81.55 L494.51,81.08 L494.70,80.60 L494.91,80.10 L495.13,79.57 L495.37,79.03 L495.61,78.46 L495.87,77.88 L496.13,77.30 L496.39,76.70 L496.65,76.10 L496.92,75.49 L497.20,74.88 L497.49,74.25 L497.78,73.62 L498.07,72.98 L498.35,72.32 L498.61,71.67 L498.85,71.00 L499.07,70.33 L499.29,69.66 L499.49,68.98 L499.68,68.30 L499.86,67.60 L500.02,66.89 L500.17,66.16 L500.30,65.40 L500.41,64.60 L500.50,63.76 L500.58,62.89 L500.64,62.01 L500.69,61.14 L500.74,60.28 L500.79,59.46 L500.85,58.70 L500.90,57.99 L500.94,57.31 L500.98,56.67 L501.02,56.04 L501.06,55.44 L501.12,54.85 L501.19,54.28 L501.30,53.70 L501.43,53.14 L501.58,52.59 L501.75,52.07 L501.93,51.55 L502.13,51.04 L502.34,50.53 L502.57,50.02 L502.80,49.50 L503.04,48.97 L503.30,48.45 L503.57,47.92 L503.86,47.40 L504.15,46.88 L504.46,46.35 L504.77,45.82 L505.10,45.30 L505.44,44.78 L505.80,44.25 L506.16,43.73 L506.54,43.20 L506.93,42.68 L507.32,42.15 L507.71,41.62 L508.10,41.10 L508.48,40.57 L508.86,40.05 L509.24,39.52 L509.62,39.00 L510.02,38.48 L510.43,37.95 L510.85,37.42 L511.30,36.90 L511.79,36.37 L512.32,35.83 L512.88,35.29 L513.44,34.74 L514.01,34.21 L514.55,33.69 L515.05,33.18 L515.50,32.70 L515.89,32.23 L516.24,31.78 L516.56,31.33 L516.85,30.90 L517.13,30.49 L517.41,30.10 L517.69,29.73 L518.00,29.40 L518.32,29.10 L518.64,28.84 L518.95,28.61 L519.27,28.39 L519.60,28.19 L519.93,28.00 L520.26,27.81 L520.60,27.60 L520.95,27.39 L521.30,27.18 L521.66,26.98 L522.02,26.78 L522.39,26.58 L522.76,26.39 L523.13,26.19 L523.50,26.00 L523.87,25.81 L524.25,25.62 L524.64,25.44 L525.02,25.26 L525.40,25.07 L525.78,24.89 L526.14,24.70 L526.50,24.50 L526.85,24.30 L527.21,24.11 L527.56,23.93 L527.90,23.73 L528.23,23.53 L528.54,23.31 L528.84,23.07 L529.10,22.80 L529.35,22.50 L529.59,22.16 L529.81,21.80 L530.01,21.43 L530.19,21.05 L530.33,20.68 L530.44,20.33 L530.50,20.00 L530.52,19.70 L530.49,19.43 L530.44,19.17 L530.34,18.91 L530.22,18.66 L530.07,18.39 L529.90,18.11 L529.70,17.80 L529.48,17.45 L529.22,17.08 L528.94,16.68 L528.63,16.27 L528.30,15.86 L527.95,15.48 L527.58,15.12 L527.20,14.80 L526.77,14.51 L526.27,14.24 L525.74,13.99 L525.19,13.76 L524.67,13.56 L524.19,13.38 L523.79,13.22 L523.50,13.10" fill="none" stroke="#888888" stroke-width="0.72" stroke-linejoin="round"/>
</g>
<line x1="493.00" y1="10.00" x2="493.00" y2="71.00" stroke="#666666" stroke-width="1.0"/>
<circle cx="458.8" cy="17.5" r="2.8" fill="#7E2F8E"/>
<circle cx="461.8" cy="18.1" r="2.8" fill="#7E2F8E"/>
<circle cx="467.7" cy="12.6" r="2.8" fill="#7E2F8E"/>
<circle cx="478.1" cy="21.8" r="2.8" fill="#7E2F8E"/>
<circle cx="481.5" cy="19.4" r="2.8" fill="#7E2F8E"/>
<circle cx="489.2" cy="17.4" r="2.8" fill="#7E2F8E"/>
<circle cx="474.0" cy="28.5" r="2.8" fill="#7E2F8E"/>
<circle cx="481.5" cy="45.7" r="2.8" fill="#7E2F8E"/>
<circle cx="492.0" cy="46.2" r="2.8" fill="#7E2F8E"/>
<circle cx="503.7" cy="17.8" r="2.8" fill="#7E2F8E"/>
<circle cx="512.2" cy="18.5" r="2.8" fill="#7E2F8E"/>
<circle cx="518.3" cy="17.4" r="2.8" fill="#7E2F8E"/>
<circle cx="521.3" cy="18.2" r="2.8" fill="#7E2F8E"/>
<circle cx="523.8" cy="19.3" r="2.8" fill="#7E2F8E"/>
<circle cx="522.3" cy="23.6" r="2.8" fill="#7E2F8E"/>
<circle cx="500.9" cy="27.2" r="2.8" fill="#7E2F8E"/>
<circle cx="495.9" cy="30.6" r="2.8" fill="#7E2F8E"/>
<circle cx="502.4" cy="34.1" r="2.8" fill="#7E2F8E"/>
<circle cx="510.2" cy="35.6" r="2.8" fill="#7E2F8E"/>
<circle cx="505.6" cy="41.4" r="2.8" fill="#7E2F8E"/>
<circle cx="498.2" cy="59.3" r="2.8" fill="#7E2F8E"/>
<circle cx="488.1" cy="66.6" r="2.8" fill="#7E2F8E"/>
<circle cx="495.4" cy="71.0" r="2.8" fill="#7E2F8E"/>
<circle cx="493.5" cy="112.4" r="2.8" fill="#7E2F8E"/>
<circle cx="492.1" cy="265.7" r="2.8" fill="#7E2F8E"/>
<rect x="491.60" y="18.20" width="2.8" height="27.30" fill="#737373"/>
<circle cx="493.00" cy="27.30" r="3.2" fill="#fff" stroke="#808080" stroke-width="1.0"/>
<g clip-path="url(#ax)">
<path d="M587.40,11.80 L587.08,11.95 L586.64,12.14 L586.12,12.36 L585.54,12.62 L584.95,12.89 L584.37,13.17 L583.85,13.44 L583.40,13.70 L583.00,13.95 L582.60,14.20 L582.21,14.46 L581.86,14.71 L581.55,14.97 L581.31,15.24 L581.16,15.52 L581.10,15.80 L581.16,16.10 L581.32,16.41 L581.56,16.73 L581.88,17.05 L582.23,17.37 L582.62,17.69 L583.01,18.00 L583.40,18.30 L583.77,18.57 L584.15,18.83 L584.55,19.07 L584.97,19.31 L585.42,19.56 L585.92,19.81 L586.48,20.09 L587.10,20.40 L587.82,20.75 L588.66,21.12 L589.57,21.52 L590.51,21.94 L591.46,22.35 L592.36,22.76 L593.19,23.14 L593.90,23.50 L594.50,23.83 L595.04,24.14 L595.51,24.44 L595.94,24.73 L596.33,25.01 L596.69,25.28 L597.05,25.54 L597.40,25.80 L597.73,26.05 L598.02,26.29 L598.28,26.51 L598.52,26.73 L598.76,26.95 L599.01,27.16 L599.29,27.38 L599.60,27.60 L599.94,27.82 L600.30,28.04 L600.68,28.25 L601.07,28.46 L601.48,28.68 L601.90,28.91 L602.34,29.15 L602.80,29.40 L603.28,29.67 L603.80,29.94 L604.33,30.23 L604.88,30.52 L605.44,30.82 L606.00,31.14 L606.55,31.46 L607.10,31.80 L607.65,32.16 L608.22,32.54 L608.80,32.93 L609.38,33.33 L609.93,33.74 L610.47,34.14 L610.96,34.53 L611.40,34.90 L611.79,35.26 L612.14,35.60 L612.45,35.93 L612.73,36.26 L612.99,36.59 L613.24,36.92 L613.47,37.26 L613.70,37.60 L613.92,37.94 L614.13,38.27 L614.32,38.60 L614.50,38.94 L614.67,39.29 L614.82,39.66 L614.96,40.06 L615.10,40.50 L615.22,40.98 L615.31,41.48 L615.38,42.02 L615.45,42.58 L615.52,43.15 L615.59,43.75 L615.68,44.37 L615.80,45.00 L615.94,45.67 L616.11,46.40 L616.30,47.16 L616.49,47.92 L616.68,48.69 L616.87,49.42 L617.04,50.09 L617.20,50.70 L617.34,51.24 L617.47,51.74 L617.60,52.19 L617.72,52.61 L617.83,53.00 L617.93,53.36 L618.02,53.69 L618.10,54.00 L618.17,54.20 L618.22,54.23 L618.26,54.19 L618.30,54.14 L618.32,54.17 L618.34,54.36 L618.36,54.77 L618.38,55.50 L618.40,56.65 L618.40,58.21 L618.40,60.04 L618.40,62.00 L618.40,63.96 L618.40,65.79 L618.40,67.35 L618.38,68.50 L618.35,69.23 L618.32,69.67 L618.28,69.88 L618.24,69.94 L618.18,69.91 L618.11,69.86 L618.02,69.87 L617.90,70.00 L617.75,70.22 L617.58,70.45 L617.38,70.69 L617.16,70.94 L616.94,71.19 L616.72,71.45 L616.50,71.72 L616.30,72.00 L616.10,72.29 L615.91,72.59 L615.71,72.90 L615.51,73.22 L615.32,73.54 L615.14,73.86 L614.96,74.18 L614.80,74.50 L614.65,74.81 L614.51,75.12 L614.38,75.42 L614.25,75.73 L614.13,76.04 L614.02,76.35 L613.91,76.67 L613.80,77.00 L613.69,77.34 L613.57,77.69 L613.46,78.05 L613.35,78.42 L613.25,78.78 L613.18,79.14 L613.12,79.48 L613.10,79.80 L613.11,80.11 L613.15,80.41 L613.22,80.70 L613.31,80.97 L613.40,81.25 L613.51,81.51 L613.61,81.76 L613.70,82.00 L613.79,82.23 L613.88,82.44 L613.97,82.63 L614.07,82.82 L614.17,83.00 L614.27,83.19 L614.38,83.39 L614.50,83.60 L614.63,83.83 L614.76,84.06 L614.90,84.31 L615.05,84.56 L615.20,84.80 L615.34,85.05 L615.47,85.28 L615.60,85.50 L615.72,85.70 L615.83,85.89 L615.93,86.07 L616.03,86.24 L616.13,86.42 L616.22,86.60 L616.31,86.79 L616.40,87.00 L616.49,87.23 L616.58,87.46 L616.66,87.71 L616.74,87.97 L616.82,88.23 L616.89,88.49 L616.95,88.75 L617.00,89.00 L617.04,89.25 L617.07,89.50 L617.10,89.75 L617.12,90.00 L617.13,90.25 L617.13,90.50 L617.12,90.75 L617.10,91.00 L617.07,91.25 L617.02,91.49 L616.97,91.73 L616.90,91.97 L616.83,92.21 L616.75,92.46 L616.68,92.73 L616.60,93.00 L616.52,93.29 L616.42,93.60 L616.31,93.93 L616.21,94.26 L616.11,94.58 L616.02,94.91 L615.95,95.21 L615.90,95.50 L615.88,95.78 L615.89,96.06 L615.92,96.34 L615.96,96.61 L616.00,96.85 L616.04,97.07 L616.08,97.26 L616.10,97.40 L620.70,97.40 L620.72,97.26 L620.76,97.07 L620.80,96.85 L620.84,96.61 L620.88,96.34 L620.91,96.06 L620.92,95.78 L620.90,95.50 L620.85,95.21 L620.78,94.91 L620.69,94.58 L620.59,94.26 L620.49,93.93 L620.38,93.60 L620.28,93.29 L620.20,93.00 L620.12,92.73 L620.05,92.46 L619.97,92.21 L619.90,91.97 L619.83,91.73 L619.78,91.49 L619.73,91.25 L619.70,91.00 L619.68,90.75 L619.67,90.50 L619.67,90.25 L619.68,90.00 L619.70,89.75 L619.73,89.50 L619.76,89.25 L619.80,89.00 L619.85,88.75 L619.91,88.49 L619.98,88.23 L620.06,87.97 L620.14,87.71 L620.22,87.46 L620.31,87.23 L620.40,87.00 L620.49,86.79 L620.58,86.60 L620.67,86.42 L620.77,86.24 L620.87,86.07 L620.97,85.89 L621.08,85.70 L621.20,85.50 L621.33,85.28 L621.46,85.05 L621.60,84.80 L621.75,84.56 L621.90,84.31 L622.04,84.06 L622.17,83.83 L622.30,83.60 L622.42,83.39 L622.53,83.19 L622.63,83.00 L622.73,82.82 L622.83,82.63 L622.92,82.44 L623.01,82.23 L623.10,82.00 L623.19,81.76 L623.29,81.51 L623.40,81.25 L623.49,80.97 L623.58,80.70 L623.65,80.41 L623.69,80.11 L623.70,79.80 L623.68,79.48 L623.62,79.14 L623.55,78.78 L623.45,78.42 L623.34,78.05 L623.23,77.69 L623.11,77.34 L623.00,77.00 L622.89,76.67 L622.78,76.35 L622.67,76.04 L622.55,75.73 L622.42,75.42 L622.29,75.12 L622.15,74.81 L622.00,74.50 L621.84,74.18 L621.66,73.86 L621.48,73.54 L621.29,73.22 L621.09,72.90 L620.89,72.59 L620.70,72.29 L620.50,72.00 L620.30,71.72 L620.08,71.45 L619.86,71.19 L619.64,70.94 L619.42,70.69 L619.22,70.45 L619.05,70.22 L618.90,70.00 L618.78,69.87 L618.69,69.86 L618.62,69.91 L618.56,69.94 L618.52,69.88 L618.48,69.67 L618.45,69.23 L618.42,68.50 L618.40,67.35 L618.40,65.79 L618.40,63.96 L618.40,62.00 L618.40,60.04 L618.40,58.21 L618.40,56.65 L618.42,55.50 L618.44,54.77 L618.46,54.36 L618.48,54.17 L618.50,54.14 L618.54,54.19 L618.58,54.23 L618.63,54.20 L618.70,54.00 L618.78,53.69 L618.87,53.36 L618.97,53.00 L619.08,52.61 L619.20,52.19 L619.33,51.74 L619.46,51.24 L619.60,50.70 L619.76,50.09 L619.93,49.42 L620.12,48.69 L620.31,47.92 L620.50,47.16 L620.69,46.40 L620.86,45.67 L621.00,45.00 L621.12,44.37 L621.21,43.75 L621.28,43.15 L621.35,42.58 L621.42,42.02 L621.49,41.48 L621.58,40.98 L621.70,40.50 L621.84,40.06 L621.98,39.66 L622.13,39.29 L622.30,38.94 L622.48,38.60 L622.67,38.27 L622.88,37.94 L623.10,37.60 L623.33,37.26 L623.56,36.92 L623.81,36.59 L624.07,36.26 L624.35,35.93 L624.66,35.60 L625.01,35.26 L625.40,34.90 L625.84,34.53 L626.33,34.14 L626.87,33.74 L627.42,33.33 L628.00,32.93 L628.58,32.54 L629.15,32.16 L629.70,31.80 L630.25,31.46 L630.80,31.14 L631.36,30.82 L631.92,30.52 L632.47,30.23 L633.00,29.94 L633.52,29.67 L634.00,29.40 L634.46,29.15 L634.90,28.91 L635.32,28.68 L635.73,28.46 L636.12,28.25 L636.50,28.04 L636.86,27.82 L637.20,27.60 L637.51,27.38 L637.79,27.16 L638.04,26.95 L638.28,26.73 L638.52,26.51 L638.78,26.29 L639.07,26.05 L639.40,25.80 L639.75,25.54 L640.11,25.28 L640.47,25.01 L640.86,24.73 L641.29,24.44 L641.76,24.14 L642.30,23.83 L642.90,23.50 L643.61,23.14 L644.44,22.76 L645.34,22.35 L646.29,21.94 L647.23,21.52 L648.14,21.12 L648.98,20.75 L649.70,20.40 L650.32,20.09 L650.88,19.81 L651.38,19.56 L651.83,19.31 L652.25,19.07 L652.65,18.83 L653.03,18.57 L653.40,18.30 L653.79,18.00 L654.18,17.69 L654.57,17.37 L654.92,17.05 L655.24,16.73 L655.48,16.41 L655.64,16.10 L655.70,15.80 L655.64,15.52 L655.49,15.24 L655.25,14.97 L654.94,14.71 L654.59,14.46 L654.20,14.20 L653.80,13.95 L653.40,13.70 L652.95,13.44 L652.43,13.17 L651.85,12.89 L651.26,12.62 L650.68,12.36 L650.16,12.14 L649.72,11.95 L649.40,11.80 Z" fill="#D6E6C1" stroke="none"/>
<path d="M649.40,11.80 L587.40,11.80 L587.40,11.80 L587.08,11.95 L586.64,12.14 L586.12,12.36 L585.54,12.62 L584.95,12.89 L584.37,13.17 L583.85,13.44 L583.40,13.70 L583.00,13.95 L582.60,14.20 L582.21,14.46 L581.86,14.71 L581.55,14.97 L581.31,15.24 L581.16,15.52 L581.10,15.80 L581.16,16.10 L581.32,16.41 L581.56,16.73 L581.88,17.05 L582.23,17.37 L582.62,17.69 L583.01,18.00 L583.40,18.30 L583.77,18.57 L584.15,18.83 L584.55,19.07 L584.97,19.31 L585.42,19.56 L585.92,19.81 L586.48,20.09 L587.10,20.40 L587.82,20.75 L588.66,21.12 L589.57,21.52 L590.51,21.94 L591.46,22.35 L592.36,22.76 L593.19,23.14 L593.90,23.50 L594.50,23.83 L595.04,24.14 L595.51,24.44 L595.94,24.73 L596.33,25.01 L596.69,25.28 L597.05,25.54 L597.40,25.80 L597.73,26.05 L598.02,26.29 L598.28,26.51 L598.52,26.73 L598.76,26.95 L599.01,27.16 L599.29,27.38 L599.60,27.60 L599.94,27.82 L600.30,28.04 L600.68,28.25 L601.07,28.46 L601.48,28.68 L601.90,28.91 L602.34,29.15 L602.80,29.40 L603.28,29.67 L603.80,29.94 L604.33,30.23 L604.88,30.52 L605.44,30.82 L606.00,31.14 L606.55,31.46 L607.10,31.80 L607.65,32.16 L608.22,32.54 L608.80,32.93 L609.38,33.33 L609.93,33.74 L610.47,34.14 L610.96,34.53 L611.40,34.90 L611.79,35.26 L612.14,35.60 L612.45,35.93 L612.73,36.26 L612.99,36.59 L613.24,36.92 L613.47,37.26 L613.70,37.60 L613.92,37.94 L614.13,38.27 L614.32,38.60 L614.50,38.94 L614.67,39.29 L614.82,39.66 L614.96,40.06 L615.10,40.50 L615.22,40.98 L615.31,41.48 L615.38,42.02 L615.45,42.58 L615.52,43.15 L615.59,43.75 L615.68,44.37 L615.80,45.00 L615.94,45.67 L616.11,46.40 L616.30,47.16 L616.49,47.92 L616.68,48.69 L616.87,49.42 L617.04,50.09 L617.20,50.70 L617.34,51.24 L617.47,51.74 L617.60,52.19 L617.74,52.61 L617.94,53.00 L618.08,53.36 L618.19,53.69 L618.27,54.00 L618.32,54.20 L618.35,54.23 L618.37,54.19 L618.38,54.14 L618.39,54.17 L618.40,54.36 L618.40,54.77 L618.40,55.50 L618.40,56.65 L618.40,58.21 L618.40,60.04 L618.40,62.00 L618.40,63.96 L618.40,65.79 L618.40,67.35 L618.40,68.50 L618.40,69.23 L618.39,69.67 L618.38,69.88 L618.36,69.94 L618.33,69.91 L618.28,69.86 L618.19,69.87 L618.04,70.00 L617.80,70.22 L617.58,70.45 L617.38,70.69 L617.16,70.94 L616.94,71.19 L616.72,71.45 L616.50,71.72 L616.30,72.00 L616.10,72.29 L615.91,72.59 L615.71,72.90 L615.51,73.22 L615.32,73.54 L615.14,73.86 L614.96,74.18 L614.80,74.50 L614.65,74.81 L614.51,75.12 L614.38,75.42 L614.25,75.73 L614.13,76.04 L614.02,76.35 L613.91,76.67 L613.80,77.00 L613.69,77.34 L613.57,77.69 L613.46,78.05 L613.35,78.42 L613.25,78.78 L613.18,79.14 L613.12,79.48 L613.10,79.80 L613.11,80.11 L613.15,80.41 L613.22,80.70 L613.31,80.97 L613.40,81.25 L613.51,81.51 L613.61,81.76 L613.70,82.00 L613.79,82.23 L613.88,82.44 L613.97,82.63 L614.07,82.82 L614.17,83.00 L614.27,83.19 L614.38,83.39 L614.50,83.60 L614.63,83.83 L614.76,84.06 L614.90,84.31 L615.05,84.56 L615.20,84.80 L615.34,85.05 L615.47,85.28 L615.60,85.50 L615.72,85.70 L615.83,85.89 L615.93,86.07 L616.03,86.24 L616.13,86.42 L616.22,86.60 L616.31,86.79 L616.40,87.00 L616.49,87.23 L616.58,87.46 L616.66,87.71 L616.74,87.97 L616.82,88.23 L616.89,88.49 L616.95,88.75 L617.00,89.00 L617.04,89.25 L617.07,89.50 L617.10,89.75 L617.12,90.00 L617.13,90.25 L617.13,90.50 L617.12,90.75 L617.10,91.00 L617.07,91.25 L617.02,91.49 L616.97,91.73 L616.90,91.97 L616.83,92.21 L616.75,92.46 L616.68,92.73 L616.60,93.00 L616.52,93.29 L616.42,93.60 L616.31,93.93 L616.21,94.26 L616.11,94.58 L616.02,94.91 L615.95,95.21 L615.90,95.50 L615.88,95.78 L615.89,96.06 L615.92,96.34 L615.96,96.61 L616.00,96.85 L616.04,97.07 L616.08,97.26 L616.10,97.40 L620.70,97.40 M620.70,97.40 L620.72,97.26 L620.76,97.07 L620.80,96.85 L620.84,96.61 L620.88,96.34 L620.91,96.06 L620.92,95.78 L620.90,95.50 L620.85,95.21 L620.78,94.91 L620.69,94.58 L620.59,94.26 L620.49,93.93 L620.38,93.60 L620.28,93.29 L620.20,93.00 L620.12,92.73 L620.05,92.46 L619.97,92.21 L619.90,91.97 L619.83,91.73 L619.78,91.49 L619.73,91.25 L619.70,91.00 L619.68,90.75 L619.67,90.50 L619.67,90.25 L619.68,90.00 L619.70,89.75 L619.73,89.50 L619.76,89.25 L619.80,89.00 L619.85,88.75 L619.91,88.49 L619.98,88.23 L620.06,87.97 L620.14,87.71 L620.22,87.46 L620.31,87.23 L620.40,87.00 L620.49,86.79 L620.58,86.60 L620.67,86.42 L620.77,86.24 L620.87,86.07 L620.97,85.89 L621.08,85.70 L621.20,85.50 L621.33,85.28 L621.46,85.05 L621.60,84.80 L621.75,84.56 L621.90,84.31 L622.04,84.06 L622.17,83.83 L622.30,83.60 L622.42,83.39 L622.53,83.19 L622.63,83.00 L622.73,82.82 L622.83,82.63 L622.92,82.44 L623.01,82.23 L623.10,82.00 L623.19,81.76 L623.29,81.51 L623.40,81.25 L623.49,80.97 L623.58,80.70 L623.65,80.41 L623.69,80.11 L623.70,79.80 L623.68,79.48 L623.62,79.14 L623.55,78.78 L623.45,78.42 L623.34,78.05 L623.23,77.69 L623.11,77.34 L623.00,77.00 L622.89,76.67 L622.78,76.35 L622.67,76.04 L622.55,75.73 L622.42,75.42 L622.29,75.12 L622.15,74.81 L622.00,74.50 L621.84,74.18 L621.66,73.86 L621.48,73.54 L621.29,73.22 L621.09,72.90 L620.89,72.59 L620.70,72.29 L620.50,72.00 L620.30,71.72 L620.08,71.45 L619.86,71.19 L619.64,70.94 L619.42,70.69 L619.22,70.45 L619.00,70.22 M619.06,52.61 L619.20,52.19 L619.33,51.74 L619.46,51.24 L619.60,50.70 L619.76,50.09 L619.93,49.42 L620.12,48.69 L620.31,47.92 L620.50,47.16 L620.69,46.40 L620.86,45.67 L621.00,45.00 L621.12,44.37 L621.21,43.75 L621.28,43.15 L621.35,42.58 L621.42,42.02 L621.49,41.48 L621.58,40.98 L621.70,40.50 L621.84,40.06 L621.98,39.66 L622.13,39.29 L622.30,38.94 L622.48,38.60 L622.67,38.27 L622.88,37.94 L623.10,37.60 L623.33,37.26 L623.56,36.92 L623.81,36.59 L624.07,36.26 L624.35,35.93 L624.66,35.60 L625.01,35.26 L625.40,34.90 L625.84,34.53 L626.33,34.14 L626.87,33.74 L627.42,33.33 L628.00,32.93 L628.58,32.54 L629.15,32.16 L629.70,31.80 L630.25,31.46 L630.80,31.14 L631.36,30.82 L631.92,30.52 L632.47,30.23 L633.00,29.94 L633.52,29.67 L634.00,29.40 L634.46,29.15 L634.90,28.91 L635.32,28.68 L635.73,28.46 L636.12,28.25 L636.50,28.04 L636.86,27.82 L637.20,27.60 L637.51,27.38 L637.79,27.16 L638.04,26.95 L638.28,26.73 L638.52,26.51 L638.78,26.29 L639.07,26.05 L639.40,25.80 L639.75,25.54 L640.11,25.28 L640.47,25.01 L640.86,24.73 L641.29,24.44 L641.76,24.14 L642.30,23.83 L642.90,23.50 L643.61,23.14 L644.44,22.76 L645.34,22.35 L646.29,21.94 L647.23,21.52 L648.14,21.12 L648.98,20.75 L649.70,20.40 L650.32,20.09 L650.88,19.81 L651.38,19.56 L651.83,19.31 L652.25,19.07 L652.65,18.83 L653.03,18.57 L653.40,18.30 L653.79,18.00 L654.18,17.69 L654.57,17.37 L654.92,17.05 L655.24,16.73 L655.48,16.41 L655.64,16.10 L655.70,15.80 L655.64,15.52 L655.49,15.24 L655.25,14.97 L654.94,14.71 L654.59,14.46 L654.20,14.20 L653.80,13.95 L653.40,13.70 L652.95,13.44 L652.43,13.17 L651.85,12.89 L651.26,12.62 L650.68,12.36 L650.16,12.14 L649.72,11.95 L649.40,11.80" fill="none" stroke="#888888" stroke-width="0.72" stroke-linejoin="round"/>
</g>
<line x1="618.40" y1="10.00" x2="618.40" y2="46.00" stroke="#666666" stroke-width="1.0"/>
<circle cx="581.4" cy="16.7" r="2.8" fill="#77AC30"/>
<circle cx="595.3" cy="14.0" r="2.8" fill="#77AC30"/>
<circle cx="598.0" cy="11.7" r="2.8" fill="#77AC30"/>
<circle cx="601.4" cy="12.7" r="2.8" fill="#77AC30"/>
<circle cx="606.4" cy="16.0" r="2.8" fill="#77AC30"/>
<circle cx="604.3" cy="25.1" r="2.8" fill="#77AC30"/>
<circle cx="606.6" cy="27.1" r="2.8" fill="#77AC30"/>
<circle cx="611.7" cy="24.3" r="2.8" fill="#77AC30"/>
<circle cx="612.9" cy="30.2" r="2.8" fill="#77AC30"/>
<circle cx="617.5" cy="36.9" r="2.8" fill="#77AC30"/>
<circle cx="619.7" cy="45.8" r="2.8" fill="#77AC30"/>
<circle cx="615.3" cy="12.0" r="2.8" fill="#77AC30"/>
<circle cx="619.4" cy="10.7" r="2.8" fill="#77AC30"/>
<circle cx="624.4" cy="15.4" r="2.8" fill="#77AC30"/>
<circle cx="631.8" cy="14.7" r="2.8" fill="#77AC30"/>
<circle cx="631.8" cy="18.7" r="2.8" fill="#77AC30"/>
<circle cx="634.1" cy="23.4" r="2.8" fill="#77AC30"/>
<circle cx="624.4" cy="28.4" r="2.8" fill="#77AC30"/>
<circle cx="645.7" cy="12.0" r="2.8" fill="#77AC30"/>
<circle cx="647.7" cy="17.4" r="2.8" fill="#77AC30"/>
<circle cx="653.4" cy="15.7" r="2.8" fill="#77AC30"/>
<circle cx="643.4" cy="22.4" r="2.8" fill="#77AC30"/>
<circle cx="616.0" cy="78.6" r="2.8" fill="#77AC30"/>
<circle cx="616.0" cy="81.2" r="2.8" fill="#77AC30"/>
<circle cx="616.0" cy="96.6" r="2.8" fill="#77AC30"/>
<rect x="617.00" y="22.00" width="2.8" height="6.10" fill="#737373"/>
<circle cx="618.40" cy="18.70" r="3.2" fill="#fff" stroke="#808080" stroke-width="1.0"/>
</svg></body></html>
